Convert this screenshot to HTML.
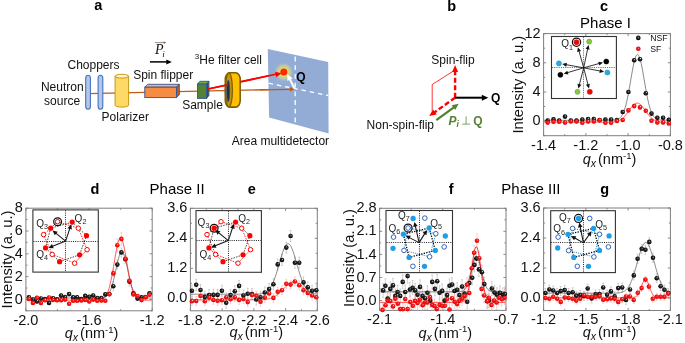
<!DOCTYPE html>
<html><head><meta charset="utf-8"><style>
html,body{margin:0;padding:0;background:#fff;width:685px;height:343px;overflow:hidden;}
svg{display:block;will-change:transform;}
</style></head><body>
<svg width="685" height="343" viewBox="0 0 685 343">
<rect width="685" height="343" fill="#fff"/>
<defs>
<radialGradient id="gk" cx="0.5" cy="0.5" r="0.5" fx="0.62" fy="0.32">
<stop offset="0" stop-color="#e8e8e8"/><stop offset="0.3" stop-color="#333"/><stop offset="1" stop-color="#000"/></radialGradient>
<radialGradient id="gr" cx="0.5" cy="0.5" r="0.5" fx="0.62" fy="0.32">
<stop offset="0" stop-color="#ffe0e0"/><stop offset="0.3" stop-color="#ff2020"/><stop offset="1" stop-color="#e00000"/></radialGradient>
<radialGradient id="glow" cx="0.5" cy="0.5" r="0.5">
<stop offset="0" stop-color="#ffe800" stop-opacity="1"/><stop offset="0.35" stop-color="#e6e060" stop-opacity="0.95"/><stop offset="0.65" stop-color="#cad29c" stop-opacity="0.75"/><stop offset="1" stop-color="#8faadc" stop-opacity="0"/></radialGradient>
</defs>
<text x="98.25" y="10.40" font-size="14.5" text-anchor="middle" font-weight="bold" font-style="normal" fill="#000" font-family="Liberation Sans" >a</text>
<text x="451.70" y="11.30" font-size="14.5" text-anchor="middle" font-weight="bold" font-style="normal" fill="#000" font-family="Liberation Sans" >b</text>
<text x="604.00" y="11.40" font-size="14.5" text-anchor="middle" font-weight="bold" font-style="normal" fill="#000" font-family="Liberation Sans" >c</text>
<text x="95.00" y="194.20" font-size="14.5" text-anchor="middle" font-weight="bold" font-style="normal" fill="#000" font-family="Liberation Sans" >d</text>
<text x="251.90" y="194.20" font-size="14.5" text-anchor="middle" font-weight="bold" font-style="normal" fill="#000" font-family="Liberation Sans" >e</text>
<text x="451.20" y="194.20" font-size="14.5" text-anchor="middle" font-weight="bold" font-style="normal" fill="#000" font-family="Liberation Sans" >f</text>
<text x="604.80" y="194.40" font-size="14.5" text-anchor="middle" font-weight="bold" font-style="normal" fill="#000" font-family="Liberation Sans" >g</text>
<text x="605.50" y="28.20" font-size="15" text-anchor="middle" font-weight="normal" font-style="normal" fill="#000" font-family="Liberation Sans" >Phase I</text>
<text x="177.10" y="194.30" font-size="15" text-anchor="middle" font-weight="normal" font-style="normal" fill="#000" font-family="Liberation Sans" >Phase II</text>
<text x="530.90" y="194.30" font-size="15" text-anchor="middle" font-weight="normal" font-style="normal" fill="#000" font-family="Liberation Sans" >Phase III</text>
<line x1="88" y1="93.6" x2="290" y2="89.2" stroke="#c55a11" stroke-width="1.3"/>
<polygon points="294.80,89.20 289.85,91.60 289.75,87.00" fill="#c55a11"/>
<rect x="85.70" y="75.3" width="4.7" height="34" rx="2.3" ry="3" fill="#b4c7e7" stroke="#4472c4" stroke-width="1.1"/>
<rect x="98.10" y="75.3" width="4.7" height="34" rx="2.3" ry="3" fill="#b4c7e7" stroke="#4472c4" stroke-width="1.1"/>
<path d="M115.1,76.2 L115.1,105.2 A6.75,1.9 0 0 0 128.6,105.2 L128.6,76.2 Z" fill="#ffd966" stroke="#bf9000" stroke-width="0.9"/>
<ellipse cx="121.85" cy="76.2" rx="6.75" ry="1.9" fill="#fff2cc" stroke="#bf9000" stroke-width="0.9"/>
<polygon points="144.8,87.2 147.6,84.3 179.3,84.3 176.5,87.2" fill="#f4b183" stroke="#2f5597" stroke-width="0.9"/>
<polygon points="176.5,87.2 179.3,84.3 179.3,94.8 176.5,97.6" fill="#c55a11" stroke="#2f5597" stroke-width="0.9"/>
<rect x="144.8" y="87.2" width="31.7" height="10.4" fill="#f58c44" stroke="#2f5597" stroke-width="0.9"/>
<polygon points="197.5,84.1 199.8,81.3 208.9,81.3 206.6,84.1" fill="#70ad47" stroke="#2f5597" stroke-width="0.9"/>
<polygon points="206.6,84.1 208.9,81.3 208.9,95.6 206.6,98.4" fill="#385723" stroke="#2f5597" stroke-width="0.9"/>
<rect x="197.5" y="84.1" width="9.1" height="14.3" fill="#548235" stroke="#2f5597" stroke-width="0.9"/>
<line x1="208" y1="89" x2="278" y2="73.8" stroke="#ff0000" stroke-width="1.6"/>
<rect x="225.3" y="72.7" width="14.9" height="34.4" rx="4.6" ry="6.5" fill="#ffc000" stroke="#7f6000" stroke-width="1.6"/>
<ellipse cx="228.9" cy="89.9" rx="3.5" ry="17.0" fill="#c89600" stroke="#7f6000" stroke-width="1.3"/>
<ellipse cx="228.2" cy="91" rx="1.55" ry="10.8" fill="#1f2d50" stroke="#2f5597" stroke-width="0.7"/>
<line x1="208" y1="89" x2="228.3" y2="84.7" stroke="#ff0000" stroke-width="1.6"/>
<polygon points="267.8,49 328.2,61.9 328.6,133.4 269.1,117.4" fill="#92acd6"/>
<line x1="295.2" y1="56.6" x2="295.2" y2="122.5" stroke="#fff" stroke-width="1.3" stroke-dasharray="4.8,3.9"/>
<line x1="268.5" y1="83.2" x2="328.3" y2="95.5" stroke="#fff" stroke-width="1.3" stroke-dasharray="4.6,3.8"/>
<line x1="260" y1="89.9" x2="290" y2="89.3" stroke="#c55a11" stroke-width="1.3"/>
<circle cx="283.8" cy="72.1" r="10.5" fill="url(#glow)"/>
<line x1="240" y1="81.8" x2="277" y2="74" stroke="#ff0000" stroke-width="1.6"/>
<polygon points="281.50,73.20 276.19,77.16 275.06,71.68" fill="#ff0000"/>
<circle cx="283.8" cy="72.1" r="3.5" fill="#ff2a00"/>
<line x1="294.60" y1="88.60" x2="289.48" y2="78.58" stroke="#ffffff" stroke-width="2.0"/>
<polygon points="287.30,74.30 292.70,78.28 287.36,81.01" fill="#ffffff"/>
<polygon points="294.80,89.20 289.85,91.60 289.75,87.00" fill="#c55a11"/>
<text x="300.90" y="80.90" font-size="12" text-anchor="middle" font-weight="bold" font-style="normal" fill="#000" font-family="Liberation Sans" >Q</text>
<text x="93.50" y="68.90" font-size="12" text-anchor="middle" font-weight="normal" font-style="normal" fill="#111" font-family="Liberation Sans" >Choppers</text>
<text x="62.30" y="91.10" font-size="12" text-anchor="middle" font-weight="normal" font-style="normal" fill="#111" font-family="Liberation Sans" >Neutron</text>
<text x="62.10" y="104.70" font-size="12" text-anchor="middle" font-weight="normal" font-style="normal" fill="#111" font-family="Liberation Sans" >source</text>
<text x="125.25" y="120.90" font-size="12" text-anchor="middle" font-weight="normal" font-style="normal" fill="#111" font-family="Liberation Sans" >Polarizer</text>
<text x="163.20" y="79.30" font-size="12" text-anchor="middle" font-weight="normal" font-style="normal" fill="#111" font-family="Liberation Sans" >Spin flipper</text>
<text x="202.50" y="108.80" font-size="12" text-anchor="middle" font-weight="normal" font-style="normal" fill="#111" font-family="Liberation Sans" >Sample</text>
<text x="194.8" y="64.2" font-size="12" font-family="Liberation Sans" fill="#111"><tspan font-size="8" dy="-4.8">3</tspan><tspan dy="4.8">He filter cell</tspan></text>
<text x="280.40" y="145.20" font-size="12" text-anchor="middle" font-weight="normal" font-style="normal" fill="#111" font-family="Liberation Sans" >Area multidetector</text>
<text x="155.00" y="54.00" font-size="14" text-anchor="start" font-weight="normal" font-style="italic" fill="#111" font-family="Liberation Serif" >P</text>
<text x="162.30" y="56.60" font-size="9" text-anchor="start" font-weight="normal" font-style="italic" fill="#111" font-family="Liberation Serif" >i</text>
<line x1="155" y1="42.6" x2="164.5" y2="42.6" stroke="#8a7060" stroke-width="0.8"/>
<polygon points="166.30,42.60 163.70,43.90 163.70,41.30" fill="#8a7060"/>
<line x1="149.90" y1="61.90" x2="167.40" y2="61.90" stroke="#000" stroke-width="1.5"/>
<polygon points="171.80,61.90 166.30,64.40 166.30,59.40" fill="#000"/>
<text x="453.00" y="63.50" font-size="12" text-anchor="middle" font-weight="normal" font-style="normal" fill="#111" font-family="Liberation Sans" >Spin-flip</text>
<text x="400.30" y="128.60" font-size="12" text-anchor="middle" font-weight="normal" font-style="normal" fill="#111" font-family="Liberation Sans" >Non-spin-flip</text>
<polyline points="453.2,71.2 432.2,84.5 432.2,113" fill="none" stroke="#ff0000" stroke-width="0.8"/>
<line x1="455.10" y1="97.70" x2="455.10" y2="70.70" stroke="#ff0000" stroke-width="2.4" stroke-dasharray="5,2.5"/>
<polygon points="455.10,65.10 458.10,72.10 452.10,72.10" fill="#ff0000"/>
<line x1="455.10" y1="97.70" x2="433.77" y2="112.86" stroke="#ff0000" stroke-width="2.4" stroke-dasharray="5,2.5"/>
<polygon points="429.20,116.10 433.17,109.60 436.64,114.49" fill="#ff0000"/>
<line x1="455.10" y1="97.70" x2="483.10" y2="97.70" stroke="#000" stroke-width="2.0"/>
<polygon points="488.30,97.70 481.80,100.70 481.80,94.70" fill="#000"/>
<line x1="436.30" y1="120.10" x2="454.50" y2="106.86" stroke="#548235" stroke-width="2.4"/>
<polygon points="458.70,103.80 455.21,110.05 451.68,105.20" fill="#548235"/>
<text x="495.60" y="101.80" font-size="12" text-anchor="middle" font-weight="bold" font-style="normal" fill="#000" font-family="Liberation Sans" >Q</text>
<text x="448.60" y="124.80" font-size="12" text-anchor="start" font-weight="bold" font-style="italic" fill="#548235" font-family="Liberation Sans" >P</text>
<text x="456.60" y="127.40" font-size="8.5" text-anchor="start" font-weight="bold" font-style="italic" fill="#548235" font-family="Liberation Sans" >i</text>
<path d="M462.2,124.1H470M466.1,124.1V116.4" stroke="#548235" stroke-width="0.9" fill="none" opacity="0.85"/>
<text x="473.30" y="124.80" font-size="12" text-anchor="start" font-weight="bold" font-style="normal" fill="#548235" font-family="Liberation Sans" >Q</text>
<rect x="543.60" y="33.60" width="126.80" height="102.10" fill="none" stroke="#7f7f7f" stroke-width="1"/>
<path d="M543.60,135.70v-2.6M543.60,33.60v2.6M585.87,135.70v-2.6M585.87,33.60v2.6M628.13,135.70v-2.6M628.13,33.60v2.6M670.40,135.70v-2.6M670.40,33.60v2.6M564.73,135.70v-1.6M564.73,33.60v1.6M607.00,135.70v-1.6M607.00,33.60v1.6M649.27,135.70v-1.6M649.27,33.60v1.6M543.60,121.11h2.6M670.40,121.11h-2.6M543.60,91.94h2.6M670.40,91.94h-2.6M543.60,62.77h2.6M670.40,62.77h-2.6M543.60,33.60h2.6M670.40,33.60h-2.6M543.60,135.70h1.6M670.40,135.70h-1.6M543.60,106.53h1.6M670.40,106.53h-1.6M543.60,77.36h1.6M670.40,77.36h-1.6M543.60,48.19h1.6M670.40,48.19h-1.6" stroke="#7f7f7f" stroke-width="0.9" fill="none"/>
<path d="M547.70,118.90V122.10M546.80,118.90h1.8M546.80,122.10h1.8M553.50,117.80V121.00M552.60,117.80h1.8M552.60,121.00h1.8M559.20,118.90V122.10M558.30,118.90h1.8M558.30,122.10h1.8M565.00,115.00V118.20M564.10,115.00h1.8M564.10,118.20h1.8M570.80,118.90V122.10M569.90,118.90h1.8M569.90,122.10h1.8M576.50,118.90V122.10M575.60,118.90h1.8M575.60,122.10h1.8M582.30,118.00V121.20M581.40,118.00h1.8M581.40,121.20h1.8M588.10,117.40V120.60M587.20,117.40h1.8M587.20,120.60h1.8M593.80,117.40V120.60M592.90,117.40h1.8M592.90,120.60h1.8M599.60,118.40V121.60M598.70,118.40h1.8M598.70,121.60h1.8M605.40,118.00V121.20M604.50,118.00h1.8M604.50,121.20h1.8M611.10,118.00V121.20M610.20,118.00h1.8M610.20,121.20h1.8M616.90,118.40V121.60M616.00,118.40h1.8M616.00,121.60h1.8M622.70,110.40V113.60M621.80,110.40h1.8M621.80,113.60h1.8M628.40,90.40V93.60M627.50,90.40h1.8M627.50,93.60h1.8M634.20,58.70V61.90M633.30,58.70h1.8M633.30,61.90h1.8M640.00,57.70V60.90M639.10,57.70h1.8M639.10,60.90h1.8M645.80,91.70V94.90M644.90,91.70h1.8M644.90,94.90h1.8M651.50,112.00V115.20M650.60,112.00h1.8M650.60,115.20h1.8M657.30,116.10V119.30M656.40,116.10h1.8M656.40,119.30h1.8M663.10,116.10V119.30M662.20,116.10h1.8M662.20,119.30h1.8M668.80,118.10V121.30M667.90,118.10h1.8M667.90,121.30h1.8" stroke="#b4b4b4" stroke-width="0.6" fill="none"/>
<path d="M547.70,121.00V124.20M546.80,121.00h1.8M546.80,124.20h1.8M553.50,120.20V123.40M552.60,120.20h1.8M552.60,123.40h1.8M559.20,120.20V123.40M558.30,120.20h1.8M558.30,123.40h1.8M565.00,121.00V124.20M564.10,121.00h1.8M564.10,124.20h1.8M570.80,119.90V123.10M569.90,119.90h1.8M569.90,123.10h1.8M576.50,119.90V123.10M575.60,119.90h1.8M575.60,123.10h1.8M582.30,121.20V124.40M581.40,121.20h1.8M581.40,124.40h1.8M588.10,119.90V123.10M587.20,119.90h1.8M587.20,123.10h1.8M593.80,119.90V123.10M592.90,119.90h1.8M592.90,123.10h1.8M599.60,118.60V121.80M598.70,118.60h1.8M598.70,121.80h1.8M605.40,121.20V124.40M604.50,121.20h1.8M604.50,124.40h1.8M611.10,121.20V124.40M610.20,121.20h1.8M610.20,124.40h1.8M616.90,119.40V122.60M616.00,119.40h1.8M616.00,122.60h1.8M622.70,118.40V121.60M621.80,118.40h1.8M621.80,121.60h1.8M628.40,108.80V112.00M627.50,108.80h1.8M627.50,112.00h1.8M634.20,104.50V107.70M633.30,104.50h1.8M633.30,107.70h1.8M640.00,105.80V109.00M639.10,105.80h1.8M639.10,109.00h1.8M645.80,109.20V112.40M644.90,109.20h1.8M644.90,112.40h1.8M651.50,119.20V122.40M650.60,119.20h1.8M650.60,122.40h1.8M657.30,120.80V124.00M656.40,120.80h1.8M656.40,124.00h1.8M663.10,120.80V124.00M662.20,120.80h1.8M662.20,124.00h1.8M668.80,121.80V125.00M667.90,121.80h1.8M667.90,125.00h1.8" stroke="#ffb0b0" stroke-width="0.6" fill="none"/>
<polyline points="544.20,120.30 544.70,120.30 545.20,120.30 545.70,120.30 546.20,120.30 546.70,120.30 547.20,120.30 547.70,120.30 548.20,120.30 548.70,120.30 549.20,120.30 549.70,120.30 550.20,120.30 550.70,120.30 551.20,120.30 551.70,120.30 552.20,120.30 552.70,120.30 553.20,120.30 553.70,120.30 554.20,120.30 554.70,120.30 555.20,120.30 555.70,120.30 556.20,120.30 556.70,120.30 557.20,120.30 557.70,120.30 558.20,120.30 558.70,120.30 559.20,120.30 559.70,120.30 560.20,120.30 560.70,120.30 561.20,120.30 561.70,120.30 562.20,120.30 562.70,120.30 563.20,120.30 563.70,120.30 564.20,120.30 564.70,120.30 565.20,120.30 565.70,120.30 566.20,120.30 566.70,120.30 567.20,120.30 567.70,120.30 568.20,120.30 568.70,120.30 569.20,120.30 569.70,120.30 570.20,120.30 570.70,120.30 571.20,120.30 571.70,120.30 572.20,120.30 572.70,120.30 573.20,120.30 573.70,120.30 574.20,120.30 574.70,120.30 575.20,120.30 575.70,120.30 576.20,120.30 576.70,120.30 577.20,120.30 577.70,120.30 578.20,120.30 578.70,120.30 579.20,120.30 579.70,120.30 580.20,120.30 580.70,120.30 581.20,120.30 581.70,120.30 582.20,120.30 582.70,120.30 583.20,120.30 583.70,120.30 584.20,120.30 584.70,120.30 585.20,120.30 585.70,120.30 586.20,120.30 586.70,120.30 587.20,120.30 587.70,120.30 588.20,120.30 588.70,120.30 589.20,120.30 589.70,120.30 590.20,120.30 590.70,120.30 591.20,120.30 591.70,120.30 592.20,120.30 592.70,120.30 593.20,120.30 593.70,120.30 594.20,120.30 594.70,120.30 595.20,120.30 595.70,120.30 596.20,120.30 596.70,120.30 597.20,120.30 597.70,120.30 598.20,120.30 598.70,120.30 599.20,120.30 599.70,120.30 600.20,120.30 600.70,120.30 601.20,120.30 601.70,120.30 602.20,120.30 602.70,120.30 603.20,120.30 603.70,120.30 604.20,120.30 604.70,120.30 605.20,120.30 605.70,120.30 606.20,120.30 606.70,120.30 607.20,120.30 607.70,120.30 608.20,120.29 608.70,120.29 609.20,120.29 609.70,120.28 610.20,120.28 610.70,120.27 611.20,120.26 611.70,120.25 612.20,120.24 612.70,120.21 613.20,120.19 613.70,120.16 614.20,120.11 614.70,120.06 615.20,120.00 615.70,119.91 616.20,119.81 616.70,119.69 617.20,119.54 617.70,119.35 618.20,119.13 618.70,118.86 619.20,118.54 619.70,118.16 620.20,117.71 620.70,117.19 621.20,116.58 621.70,115.88 622.20,115.06 622.70,114.14 623.20,113.09 623.70,111.91 624.20,110.58 624.70,109.11 625.20,107.48 625.70,105.70 626.20,103.76 626.70,101.66 627.20,99.41 627.70,97.01 628.20,94.47 628.70,91.82 629.20,89.06 629.70,86.22 630.20,83.32 630.70,80.39 631.20,77.46 631.70,74.56 632.20,71.74 632.70,69.01 633.20,66.42 633.70,64.01 634.20,61.81 634.70,59.85 635.20,58.16 635.70,56.77 636.20,55.69 636.70,54.95 637.20,54.56 637.70,54.53 638.20,54.85 638.70,55.52 639.20,56.52 639.70,57.86 640.20,59.49 640.70,61.40 641.20,63.55 641.70,65.93 642.20,68.48 642.70,71.18 643.20,73.99 643.70,76.88 644.20,79.80 644.70,82.74 645.20,85.64 645.70,88.50 646.20,91.27 646.70,93.95 647.20,96.51 647.70,98.94 648.20,101.22 648.70,103.35 649.20,105.32 649.70,107.14 650.20,108.80 650.70,110.30 651.20,111.65 651.70,112.86 652.20,113.94 652.70,114.89 653.20,115.72 653.70,116.45 654.20,117.07 654.70,117.62 655.20,118.08 655.70,118.47 656.20,118.80 656.70,119.08 657.20,119.31 657.70,119.50 658.20,119.66 658.70,119.79 659.20,119.90 659.70,119.98 660.20,120.05 660.70,120.10 661.20,120.15 661.70,120.18 662.20,120.21 662.70,120.23 663.20,120.25 663.70,120.26 664.20,120.27 664.70,120.28 665.20,120.28 665.70,120.29 666.20,120.29 666.70,120.29 667.20,120.30 667.70,120.30 668.20,120.30 668.70,120.30 669.20,120.30 669.70,120.30" fill="none" stroke="#555" stroke-width="0.7"/>
<polyline points="544.20,122.20 544.70,122.20 545.20,122.20 545.70,122.20 546.20,122.20 546.70,122.20 547.20,122.20 547.70,122.20 548.20,122.20 548.70,122.20 549.20,122.20 549.70,122.20 550.20,122.20 550.70,122.20 551.20,122.20 551.70,122.20 552.20,122.20 552.70,122.20 553.20,122.20 553.70,122.20 554.20,122.20 554.70,122.20 555.20,122.20 555.70,122.20 556.20,122.20 556.70,122.20 557.20,122.20 557.70,122.20 558.20,122.20 558.70,122.20 559.20,122.20 559.70,122.20 560.20,122.20 560.70,122.20 561.20,122.20 561.70,122.20 562.20,122.20 562.70,122.20 563.20,122.20 563.70,122.20 564.20,122.20 564.70,122.20 565.20,122.20 565.70,122.20 566.20,122.20 566.70,122.20 567.20,122.20 567.70,122.20 568.20,122.20 568.70,122.20 569.20,122.20 569.70,122.20 570.20,122.20 570.70,122.20 571.20,122.20 571.70,122.20 572.20,122.20 572.70,122.20 573.20,122.20 573.70,122.20 574.20,122.20 574.70,122.20 575.20,122.20 575.70,122.20 576.20,122.20 576.70,122.20 577.20,122.20 577.70,122.20 578.20,122.20 578.70,122.20 579.20,122.20 579.70,122.20 580.20,122.20 580.70,122.20 581.20,122.20 581.70,122.20 582.20,122.20 582.70,122.20 583.20,122.20 583.70,122.20 584.20,122.20 584.70,122.20 585.20,122.20 585.70,122.20 586.20,122.20 586.70,122.20 587.20,122.20 587.70,122.20 588.20,122.20 588.70,122.20 589.20,122.20 589.70,122.20 590.20,122.20 590.70,122.20 591.20,122.20 591.70,122.20 592.20,122.20 592.70,122.20 593.20,122.20 593.70,122.20 594.20,122.20 594.70,122.20 595.20,122.20 595.70,122.20 596.20,122.20 596.70,122.20 597.20,122.20 597.70,122.20 598.20,122.20 598.70,122.20 599.20,122.20 599.70,122.20 600.20,122.20 600.70,122.20 601.20,122.20 601.70,122.20 602.20,122.20 602.70,122.20 603.20,122.20 603.70,122.20 604.20,122.19 604.70,122.19 605.20,122.19 605.70,122.19 606.20,122.18 606.70,122.18 607.20,122.18 607.70,122.17 608.20,122.16 608.70,122.15 609.20,122.14 609.70,122.13 610.20,122.12 610.70,122.10 611.20,122.07 611.70,122.05 612.20,122.02 612.70,121.98 613.20,121.94 613.70,121.89 614.20,121.83 614.70,121.76 615.20,121.68 615.70,121.59 616.20,121.48 616.70,121.36 617.20,121.22 617.70,121.07 618.20,120.90 618.70,120.70 619.20,120.48 619.70,120.24 620.20,119.97 620.70,119.68 621.20,119.35 621.70,119.00 622.20,118.62 622.70,118.20 623.20,117.75 623.70,117.27 624.20,116.76 624.70,116.22 625.20,115.65 625.70,115.06 626.20,114.43 626.70,113.79 627.20,113.12 627.70,112.44 628.20,111.74 628.70,111.04 629.20,110.33 629.70,109.63 630.20,108.93 630.70,108.25 631.20,107.59 631.70,106.95 632.20,106.34 632.70,105.77 633.20,105.24 633.70,104.76 634.20,104.34 634.70,103.97 635.20,103.66 635.70,103.42 636.20,103.24 636.70,103.14 637.20,103.10 637.70,103.14 638.20,103.24 638.70,103.42 639.20,103.66 639.70,103.97 640.20,104.34 640.70,104.76 641.20,105.24 641.70,105.77 642.20,106.34 642.70,106.95 643.20,107.59 643.70,108.25 644.20,108.93 644.70,109.63 645.20,110.33 645.70,111.04 646.20,111.74 646.70,112.44 647.20,113.12 647.70,113.79 648.20,114.43 648.70,115.06 649.20,115.65 649.70,116.22 650.20,116.76 650.70,117.27 651.20,117.75 651.70,118.20 652.20,118.62 652.70,119.00 653.20,119.35 653.70,119.68 654.20,119.97 654.70,120.24 655.20,120.48 655.70,120.70 656.20,120.90 656.70,121.07 657.20,121.22 657.70,121.36 658.20,121.48 658.70,121.59 659.20,121.68 659.70,121.76 660.20,121.83 660.70,121.89 661.20,121.94 661.70,121.98 662.20,122.02 662.70,122.05 663.20,122.07 663.70,122.10 664.20,122.12 664.70,122.13 665.20,122.14 665.70,122.15 666.20,122.16 666.70,122.17 667.20,122.18 667.70,122.18 668.20,122.18 668.70,122.19 669.20,122.19 669.70,122.19" fill="none" stroke="#ff1010" stroke-width="0.7"/>
<circle cx="547.70" cy="120.50" r="2.3" fill="url(#gk)"/>
<circle cx="553.50" cy="119.40" r="2.3" fill="url(#gk)"/>
<circle cx="559.20" cy="120.50" r="2.3" fill="url(#gk)"/>
<circle cx="565.00" cy="116.60" r="2.3" fill="url(#gk)"/>
<circle cx="570.80" cy="120.50" r="2.3" fill="url(#gk)"/>
<circle cx="576.50" cy="120.50" r="2.3" fill="url(#gk)"/>
<circle cx="582.30" cy="119.60" r="2.3" fill="url(#gk)"/>
<circle cx="588.10" cy="119.00" r="2.3" fill="url(#gk)"/>
<circle cx="593.80" cy="119.00" r="2.3" fill="url(#gk)"/>
<circle cx="599.60" cy="120.00" r="2.3" fill="url(#gk)"/>
<circle cx="605.40" cy="119.60" r="2.3" fill="url(#gk)"/>
<circle cx="611.10" cy="119.60" r="2.3" fill="url(#gk)"/>
<circle cx="616.90" cy="120.00" r="2.3" fill="url(#gk)"/>
<circle cx="622.70" cy="112.00" r="2.3" fill="url(#gk)"/>
<circle cx="628.40" cy="92.00" r="2.3" fill="url(#gk)"/>
<circle cx="634.20" cy="60.30" r="2.3" fill="url(#gk)"/>
<circle cx="640.00" cy="59.30" r="2.3" fill="url(#gk)"/>
<circle cx="645.80" cy="93.30" r="2.3" fill="url(#gk)"/>
<circle cx="651.50" cy="113.60" r="2.3" fill="url(#gk)"/>
<circle cx="657.30" cy="117.70" r="2.3" fill="url(#gk)"/>
<circle cx="663.10" cy="117.70" r="2.3" fill="url(#gk)"/>
<circle cx="668.80" cy="119.70" r="2.3" fill="url(#gk)"/>
<circle cx="547.70" cy="122.60" r="2.3" fill="url(#gr)"/>
<circle cx="553.50" cy="121.80" r="2.3" fill="url(#gr)"/>
<circle cx="559.20" cy="121.80" r="2.3" fill="url(#gr)"/>
<circle cx="565.00" cy="122.60" r="2.3" fill="url(#gr)"/>
<circle cx="570.80" cy="121.50" r="2.3" fill="url(#gr)"/>
<circle cx="576.50" cy="121.50" r="2.3" fill="url(#gr)"/>
<circle cx="582.30" cy="122.80" r="2.3" fill="url(#gr)"/>
<circle cx="588.10" cy="121.50" r="2.3" fill="url(#gr)"/>
<circle cx="593.80" cy="121.50" r="2.3" fill="url(#gr)"/>
<circle cx="599.60" cy="120.20" r="2.3" fill="url(#gr)"/>
<circle cx="605.40" cy="122.80" r="2.3" fill="url(#gr)"/>
<circle cx="611.10" cy="122.80" r="2.3" fill="url(#gr)"/>
<circle cx="616.90" cy="121.00" r="2.3" fill="url(#gr)"/>
<circle cx="622.70" cy="120.00" r="2.3" fill="url(#gr)"/>
<circle cx="628.40" cy="110.40" r="2.3" fill="url(#gr)"/>
<circle cx="634.20" cy="106.10" r="2.3" fill="url(#gr)"/>
<circle cx="640.00" cy="107.40" r="2.3" fill="url(#gr)"/>
<circle cx="645.80" cy="110.80" r="2.3" fill="url(#gr)"/>
<circle cx="651.50" cy="120.80" r="2.3" fill="url(#gr)"/>
<circle cx="657.30" cy="122.40" r="2.3" fill="url(#gr)"/>
<circle cx="663.10" cy="122.40" r="2.3" fill="url(#gr)"/>
<circle cx="668.80" cy="123.40" r="2.3" fill="url(#gr)"/>
<text x="543.60" y="149.60" font-size="14.5" text-anchor="middle" font-weight="normal" font-style="normal" fill="#111" font-family="Liberation Sans" >-1.4</text>
<text x="585.87" y="149.60" font-size="14.5" text-anchor="middle" font-weight="normal" font-style="normal" fill="#111" font-family="Liberation Sans" >-1.2</text>
<text x="628.13" y="149.60" font-size="14.5" text-anchor="middle" font-weight="normal" font-style="normal" fill="#111" font-family="Liberation Sans" >-1.0</text>
<text x="670.40" y="149.60" font-size="14.5" text-anchor="middle" font-weight="normal" font-style="normal" fill="#111" font-family="Liberation Sans" >-0.8</text>
<text x="540.60" y="125.21" font-size="14.5" text-anchor="end" font-weight="normal" font-style="normal" fill="#111" font-family="Liberation Sans" >0</text>
<text x="540.60" y="96.04" font-size="14.5" text-anchor="end" font-weight="normal" font-style="normal" fill="#111" font-family="Liberation Sans" >4</text>
<text x="540.60" y="66.87" font-size="14.5" text-anchor="end" font-weight="normal" font-style="normal" fill="#111" font-family="Liberation Sans" >8</text>
<text x="540.60" y="37.70" font-size="14.5" text-anchor="end" font-weight="normal" font-style="normal" fill="#111" font-family="Liberation Sans" >12</text>
<text x="609.50" y="164.20" font-size="14.5" text-anchor="middle" fill="#111" font-family="Liberation Sans"><tspan font-style="italic">q</tspan><tspan font-style="italic" font-size="10.5" dy="3">x</tspan><tspan dy="-3" dx="2">(nm</tspan><tspan font-size="9.5" dy="-5.4">-1</tspan><tspan dy="5.4">)</tspan></text>
<text x="0" y="0" font-size="14.8" text-anchor="middle" fill="#111" font-family="Liberation Sans" transform="translate(523.40,84.65) rotate(-90)">Intensity (a. u.)</text>
<circle cx="638.3" cy="37.9" r="2.3" fill="url(#gk)"/>
<circle cx="638.3" cy="48.8" r="2.3" fill="url(#gr)"/>
<text x="650.20" y="41.00" font-size="8.7" text-anchor="start" font-weight="normal" font-style="normal" fill="#111" font-family="Liberation Sans" >NSF</text>
<text x="650.20" y="52.00" font-size="8.7" text-anchor="start" font-weight="normal" font-style="normal" fill="#111" font-family="Liberation Sans" >SF</text>
<rect x="551.50" y="36.50" width="64.90" height="62.00" fill="#fff" stroke="#333" stroke-width="1.1"/>
<line x1="583.50" y1="37.00" x2="583.50" y2="98.00" stroke="#777" stroke-width="1" stroke-dasharray="1.2,1"/>
<line x1="552.00" y1="67.50" x2="615.90" y2="67.50" stroke="#777" stroke-width="1" stroke-dasharray="1.2,1"/>
<line x1="583.70" y1="67.80" x2="578.86" y2="50.59" stroke="#111" stroke-width="0.85"/>
<polygon points="577.91,47.21 581.02,50.90 577.17,51.98" fill="#111"/>
<line x1="583.70" y1="67.80" x2="587.78" y2="48.37" stroke="#111" stroke-width="0.85"/>
<polygon points="588.50,44.93 589.55,49.64 585.64,48.82" fill="#111"/>
<line x1="583.70" y1="67.80" x2="599.63" y2="63.36" stroke="#111" stroke-width="0.85"/>
<polygon points="603.02,62.41 599.32,65.52 598.25,61.67" fill="#111"/>
<line x1="583.70" y1="67.80" x2="600.61" y2="71.15" stroke="#111" stroke-width="0.85"/>
<polygon points="604.06,71.84 599.36,72.94 600.14,69.02" fill="#111"/>
<line x1="583.70" y1="67.80" x2="565.71" y2="64.61" stroke="#111" stroke-width="0.85"/>
<polygon points="562.25,63.99 566.93,62.79 566.23,66.73" fill="#111"/>
<line x1="583.70" y1="67.80" x2="567.03" y2="72.81" stroke="#111" stroke-width="0.85"/>
<polygon points="563.66,73.82 567.29,70.64 568.45,74.47" fill="#111"/>
<line x1="583.70" y1="67.80" x2="579.23" y2="85.10" stroke="#111" stroke-width="0.85"/>
<polygon points="578.35,88.51 577.51,83.75 581.39,84.75" fill="#111"/>
<line x1="583.70" y1="67.80" x2="588.10" y2="85.09" stroke="#111" stroke-width="0.85"/>
<polygon points="588.96,88.50 585.94,84.73 589.82,83.75" fill="#111"/>
<circle cx="576.5" cy="42.2" r="2.55" fill="#ff0000" stroke="#c00000" stroke-width="0.5"/>
<circle cx="589.2" cy="41.6" r="2.55" fill="#8cc63f" stroke="#39a935" stroke-width="0.5"/>
<circle cx="606.3" cy="61.5" r="2.55" fill="#000" stroke="#000" stroke-width="0.5"/>
<circle cx="607.4" cy="72.5" r="2.55" fill="#29abe2" stroke="#1b8fc8" stroke-width="0.5"/>
<circle cx="558.9" cy="63.4" r="2.55" fill="#29abe2" stroke="#1b8fc8" stroke-width="0.5"/>
<circle cx="560.4" cy="74.8" r="2.55" fill="#000" stroke="#000" stroke-width="0.5"/>
<circle cx="577.5" cy="91.8" r="2.55" fill="#8cc63f" stroke="#39a935" stroke-width="0.5"/>
<circle cx="589.8" cy="91.8" r="2.55" fill="#ff0000" stroke="#c00000" stroke-width="0.5"/>
<circle cx="576.5" cy="42.2" r="4.1" fill="none" stroke="#111" stroke-width="1.25"/>
<text x="561.20" y="47.30" font-size="10" fill="#222" font-family="Liberation Sans">Q<tspan font-size="7.2" dy="2.2">1</tspan></text>
<rect x="25.90" y="208.20" width="126.30" height="102.60" fill="none" stroke="#7f7f7f" stroke-width="1"/>
<path d="M25.90,310.80v-2.6M25.90,208.20v2.6M89.05,310.80v-2.6M89.05,208.20v2.6M152.20,310.80v-2.6M152.20,208.20v2.6M57.47,310.80v-1.6M57.47,208.20v1.6M120.62,310.80v-1.6M120.62,208.20v1.6M25.90,299.40h2.6M152.20,299.40h-2.6M25.90,276.60h2.6M152.20,276.60h-2.6M25.90,253.80h2.6M152.20,253.80h-2.6M25.90,231.00h2.6M152.20,231.00h-2.6M25.90,208.20h2.6M152.20,208.20h-2.6M25.90,310.80h1.6M152.20,310.80h-1.6M25.90,288.00h1.6M152.20,288.00h-1.6M25.90,265.20h1.6M152.20,265.20h-1.6M25.90,242.40h1.6M152.20,242.40h-1.6M25.90,219.60h1.6M152.20,219.60h-1.6" stroke="#7f7f7f" stroke-width="0.9" fill="none"/>
<path d="M28.90,295.80V299.00M28.00,295.80h1.8M28.00,299.00h1.8M32.90,298.00V301.20M32.00,298.00h1.8M32.00,301.20h1.8M36.90,299.80V303.00M36.00,299.80h1.8M36.00,303.00h1.8M40.90,296.90V300.10M40.00,296.90h1.8M40.00,300.10h1.8M45.00,297.40V300.60M44.10,297.40h1.8M44.10,300.60h1.8M49.00,301.30V304.50M48.10,301.30h1.8M48.10,304.50h1.8M53.00,296.70V299.90M52.10,296.70h1.8M52.10,299.90h1.8M57.00,297.60V300.80M56.10,297.60h1.8M56.10,300.80h1.8M61.10,294.00V297.20M60.20,294.00h1.8M60.20,297.20h1.8M65.10,295.40V298.60M64.20,295.40h1.8M64.20,298.60h1.8M69.10,292.50V295.70M68.20,292.50h1.8M68.20,295.70h1.8M73.10,295.80V299.00M72.20,295.80h1.8M72.20,299.00h1.8M77.10,295.70V298.90M76.20,295.70h1.8M76.20,298.90h1.8M81.20,297.40V300.60M80.30,297.40h1.8M80.30,300.60h1.8M85.20,294.30V297.50M84.30,294.30h1.8M84.30,297.50h1.8M89.20,295.10V298.30M88.30,295.10h1.8M88.30,298.30h1.8M93.20,293.90V297.10M92.30,293.90h1.8M92.30,297.10h1.8M97.20,296.40V299.60M96.30,296.40h1.8M96.30,299.60h1.8M101.30,296.40V299.60M100.40,296.40h1.8M100.40,299.60h1.8M105.30,292.80V296.00M104.40,292.80h1.8M104.40,296.00h1.8M109.30,292.40V295.60M108.40,292.40h1.8M108.40,295.60h1.8M113.30,281.70V290.70M112.40,281.70h1.8M112.40,290.70h1.8M117.30,260.10V269.10M116.40,260.10h1.8M116.40,269.10h1.8M121.40,247.90V256.90M120.50,247.90h1.8M120.50,256.90h1.8M125.40,254.70V263.70M124.50,254.70h1.8M124.50,263.70h1.8M129.40,277.10V286.10M128.50,277.10h1.8M128.50,286.10h1.8M133.40,291.60V294.80M132.50,291.60h1.8M132.50,294.80h1.8M137.50,297.00V300.20M136.60,297.00h1.8M136.60,300.20h1.8M141.50,295.70V298.90M140.60,295.70h1.8M140.60,298.90h1.8M145.50,295.40V298.60M144.60,295.40h1.8M144.60,298.60h1.8M149.50,291.60V294.80M148.60,291.60h1.8M148.60,294.80h1.8" stroke="#b4b4b4" stroke-width="0.6" fill="none"/>
<path d="M28.90,297.30V300.50M28.00,297.30h1.8M28.00,300.50h1.8M32.90,301.30V304.50M32.00,301.30h1.8M32.00,304.50h1.8M36.90,296.20V299.40M36.00,296.20h1.8M36.00,299.40h1.8M40.90,301.30V304.50M40.00,301.30h1.8M40.00,304.50h1.8M45.00,298.70V301.90M44.10,298.70h1.8M44.10,301.90h1.8M49.00,296.00V299.20M48.10,296.00h1.8M48.10,299.20h1.8M53.00,298.40V301.60M52.10,298.40h1.8M52.10,301.60h1.8M57.00,298.70V301.90M56.10,298.70h1.8M56.10,301.90h1.8M61.10,298.70V301.90M60.20,298.70h1.8M60.20,301.90h1.8M65.10,298.00V301.20M64.20,298.00h1.8M64.20,301.20h1.8M69.10,302.20V305.40M68.20,302.20h1.8M68.20,305.40h1.8M73.10,299.10V302.30M72.20,299.10h1.8M72.20,302.30h1.8M77.10,299.20V302.40M76.20,299.20h1.8M76.20,302.40h1.8M81.20,298.80V302.00M80.30,298.80h1.8M80.30,302.00h1.8M85.20,298.40V301.60M84.30,298.40h1.8M84.30,301.60h1.8M89.20,299.80V303.00M88.30,299.80h1.8M88.30,303.00h1.8M93.20,298.00V301.20M92.30,298.00h1.8M92.30,301.20h1.8M97.20,299.20V302.40M96.30,299.20h1.8M96.30,302.40h1.8M101.30,298.80V302.00M100.40,298.80h1.8M100.40,302.00h1.8M105.30,299.20V302.40M104.40,299.20h1.8M104.40,302.40h1.8M109.30,292.70V295.90M108.40,292.70h1.8M108.40,295.90h1.8M113.30,269.90V276.90M112.40,269.90h1.8M112.40,276.90h1.8M117.30,238.80V251.80M116.40,238.80h1.8M116.40,251.80h1.8M121.40,232.40V245.40M120.50,232.40h1.8M120.50,245.40h1.8M125.40,255.20V262.20M124.50,255.20h1.8M124.50,262.20h1.8M129.40,277.20V284.20M128.50,277.20h1.8M128.50,284.20h1.8M133.40,292.80V296.00M132.50,292.80h1.8M132.50,296.00h1.8M137.50,294.50V297.70M136.60,294.50h1.8M136.60,297.70h1.8M141.50,298.50V301.70M140.60,298.50h1.8M140.60,301.70h1.8M145.50,295.70V298.90M144.60,295.70h1.8M144.60,298.90h1.8M149.50,293.20V296.40M148.60,293.20h1.8M148.60,296.40h1.8" stroke="#ffb0b0" stroke-width="0.6" fill="none"/>
<polyline points="26.50,298.00 27.00,298.00 27.50,298.00 28.00,298.00 28.50,298.00 29.00,298.00 29.50,298.00 30.00,298.00 30.50,298.00 31.00,298.00 31.50,298.00 32.00,298.00 32.50,298.00 33.00,298.00 33.50,298.00 34.00,298.00 34.50,298.00 35.00,298.00 35.50,298.00 36.00,298.00 36.50,298.00 37.00,298.00 37.50,298.00 38.00,298.00 38.50,298.00 39.00,298.00 39.50,298.00 40.00,298.00 40.50,298.00 41.00,298.00 41.50,298.00 42.00,298.00 42.50,298.00 43.00,298.00 43.50,298.00 44.00,298.00 44.50,298.00 45.00,298.00 45.50,298.00 46.00,298.00 46.50,298.00 47.00,298.00 47.50,298.00 48.00,298.00 48.50,298.00 49.00,298.00 49.50,298.00 50.00,298.00 50.50,298.00 51.00,298.00 51.50,298.00 52.00,298.00 52.50,298.00 53.00,298.00 53.50,298.00 54.00,298.00 54.50,298.00 55.00,298.00 55.50,298.00 56.00,298.00 56.50,298.00 57.00,298.00 57.50,298.00 58.00,298.00 58.50,298.00 59.00,298.00 59.50,298.00 60.00,298.00 60.50,298.00 61.00,298.00 61.50,298.00 62.00,298.00 62.50,298.00 63.00,298.00 63.50,298.00 64.00,298.00 64.50,298.00 65.00,298.00 65.50,298.00 66.00,298.00 66.50,298.00 67.00,298.00 67.50,298.00 68.00,298.00 68.50,298.00 69.00,298.00 69.50,298.00 70.00,298.00 70.50,298.00 71.00,298.00 71.50,298.00 72.00,298.00 72.50,298.00 73.00,298.00 73.50,298.00 74.00,298.00 74.50,298.00 75.00,298.00 75.50,298.00 76.00,298.00 76.50,298.00 77.00,298.00 77.50,298.00 78.00,298.00 78.50,298.00 79.00,298.00 79.50,298.00 80.00,298.00 80.50,298.00 81.00,298.00 81.50,298.00 82.00,298.00 82.50,298.00 83.00,298.00 83.50,298.00 84.00,298.00 84.50,298.00 85.00,298.00 85.50,298.00 86.00,298.00 86.50,298.00 87.00,298.00 87.50,298.00 88.00,298.00 88.50,298.00 89.00,298.00 89.50,298.00 90.00,298.00 90.50,298.00 91.00,298.00 91.50,298.00 92.00,298.00 92.50,298.00 93.00,298.00 93.50,298.00 94.00,298.00 94.50,298.00 95.00,298.00 95.50,298.00 96.00,298.00 96.50,297.99 97.00,297.99 97.50,297.99 98.00,297.98 98.50,297.98 99.00,297.97 99.50,297.95 100.00,297.94 100.50,297.92 101.00,297.89 101.50,297.85 102.00,297.80 102.50,297.74 103.00,297.66 103.50,297.56 104.00,297.44 104.50,297.28 105.00,297.09 105.50,296.85 106.00,296.56 106.50,296.22 107.00,295.80 107.50,295.31 108.00,294.73 108.50,294.06 109.00,293.27 109.50,292.37 110.00,291.35 110.50,290.19 111.00,288.90 111.50,287.46 112.00,285.88 112.50,284.16 113.00,282.31 113.50,280.33 114.00,278.24 114.50,276.06 115.00,273.80 115.50,271.49 116.00,269.17 116.50,266.86 117.00,264.60 117.50,262.42 118.00,260.36 118.50,258.46 119.00,256.75 119.50,255.26 120.00,254.02 120.50,253.07 121.00,252.41 121.50,252.06 122.00,252.03 122.50,252.31 123.00,252.91 123.50,253.81 124.00,254.99 124.50,256.43 125.00,258.10 125.50,259.97 126.00,262.00 126.50,264.15 127.00,266.40 127.50,268.71 128.00,271.03 128.50,273.34 129.00,275.61 129.50,277.81 130.00,279.92 130.50,281.92 131.00,283.80 131.50,285.55 132.00,287.16 132.50,288.62 133.00,289.94 133.50,291.13 134.00,292.18 134.50,293.10 135.00,293.91 135.50,294.61 136.00,295.20 136.50,295.71 137.00,296.14 137.50,296.50 138.00,296.80 138.50,297.04 139.00,297.24 139.50,297.41 140.00,297.54 140.50,297.64 141.00,297.73 141.50,297.79 142.00,297.84 142.50,297.88 143.00,297.91 143.50,297.93 144.00,297.95 144.50,297.96 145.00,297.97 145.50,297.98 146.00,297.99 146.50,297.99 147.00,297.99 147.50,298.00 148.00,298.00 148.50,298.00 149.00,298.00 149.50,298.00 150.00,298.00 150.50,298.00 151.00,298.00 151.50,298.00" fill="none" stroke="#555" stroke-width="0.7"/>
<polyline points="26.50,300.20 27.00,300.20 27.50,300.20 28.00,300.20 28.50,300.20 29.00,300.20 29.50,300.20 30.00,300.20 30.50,300.20 31.00,300.20 31.50,300.20 32.00,300.20 32.50,300.20 33.00,300.20 33.50,300.20 34.00,300.20 34.50,300.20 35.00,300.20 35.50,300.20 36.00,300.20 36.50,300.20 37.00,300.20 37.50,300.20 38.00,300.20 38.50,300.20 39.00,300.20 39.50,300.20 40.00,300.20 40.50,300.20 41.00,300.20 41.50,300.20 42.00,300.20 42.50,300.20 43.00,300.20 43.50,300.20 44.00,300.20 44.50,300.20 45.00,300.20 45.50,300.20 46.00,300.20 46.50,300.20 47.00,300.20 47.50,300.20 48.00,300.20 48.50,300.20 49.00,300.20 49.50,300.20 50.00,300.20 50.50,300.20 51.00,300.20 51.50,300.20 52.00,300.20 52.50,300.20 53.00,300.20 53.50,300.20 54.00,300.20 54.50,300.20 55.00,300.20 55.50,300.20 56.00,300.20 56.50,300.20 57.00,300.20 57.50,300.20 58.00,300.20 58.50,300.20 59.00,300.20 59.50,300.20 60.00,300.20 60.50,300.20 61.00,300.20 61.50,300.20 62.00,300.20 62.50,300.20 63.00,300.20 63.50,300.20 64.00,300.20 64.50,300.20 65.00,300.20 65.50,300.20 66.00,300.20 66.50,300.20 67.00,300.20 67.50,300.20 68.00,300.20 68.50,300.20 69.00,300.20 69.50,300.20 70.00,300.20 70.50,300.20 71.00,300.20 71.50,300.20 72.00,300.20 72.50,300.20 73.00,300.20 73.50,300.20 74.00,300.20 74.50,300.20 75.00,300.20 75.50,300.20 76.00,300.20 76.50,300.20 77.00,300.20 77.50,300.20 78.00,300.20 78.50,300.20 79.00,300.20 79.50,300.20 80.00,300.20 80.50,300.20 81.00,300.20 81.50,300.20 82.00,300.20 82.50,300.20 83.00,300.20 83.50,300.20 84.00,300.20 84.50,300.20 85.00,300.20 85.50,300.20 86.00,300.20 86.50,300.20 87.00,300.20 87.50,300.20 88.00,300.20 88.50,300.20 89.00,300.20 89.50,300.20 90.00,300.20 90.50,300.20 91.00,300.20 91.50,300.20 92.00,300.20 92.50,300.20 93.00,300.20 93.50,300.19 94.00,300.19 94.50,300.19 95.00,300.18 95.50,300.18 96.00,300.17 96.50,300.16 97.00,300.14 97.50,300.12 98.00,300.09 98.50,300.06 99.00,300.02 99.50,299.96 100.00,299.89 100.50,299.80 101.00,299.68 101.50,299.54 102.00,299.37 102.50,299.15 103.00,298.89 103.50,298.57 104.00,298.18 104.50,297.73 105.00,297.18 105.50,296.55 106.00,295.80 106.50,294.93 107.00,293.94 107.50,292.80 108.00,291.51 108.50,290.06 109.00,288.44 109.50,286.65 110.00,284.69 110.50,282.55 111.00,280.25 111.50,277.78 112.00,275.17 112.50,272.43 113.00,269.58 113.50,266.65 114.00,263.67 114.50,260.68 115.00,257.71 115.50,254.80 116.00,252.01 116.50,249.35 117.00,246.89 117.50,244.67 118.00,242.71 118.50,241.06 119.00,239.74 119.50,238.78 120.00,238.20 120.50,238.00 121.00,238.20 121.50,238.78 122.00,239.74 122.50,241.06 123.00,242.71 123.50,244.67 124.00,246.89 124.50,249.35 125.00,252.01 125.50,254.80 126.00,257.71 126.50,260.68 127.00,263.67 127.50,266.65 128.00,269.58 128.50,272.43 129.00,275.17 129.50,277.78 130.00,280.25 130.50,282.55 131.00,284.69 131.50,286.65 132.00,288.44 132.50,290.06 133.00,291.51 133.50,292.80 134.00,293.94 134.50,294.93 135.00,295.80 135.50,296.55 136.00,297.18 136.50,297.73 137.00,298.18 137.50,298.57 138.00,298.89 138.50,299.15 139.00,299.37 139.50,299.54 140.00,299.68 140.50,299.80 141.00,299.89 141.50,299.96 142.00,300.02 142.50,300.06 143.00,300.09 143.50,300.12 144.00,300.14 144.50,300.16 145.00,300.17 145.50,300.18 146.00,300.18 146.50,300.19 147.00,300.19 147.50,300.19 148.00,300.20 148.50,300.20 149.00,300.20 149.50,300.20 150.00,300.20 150.50,300.20 151.00,300.20 151.50,300.20" fill="none" stroke="#ff1010" stroke-width="0.7"/>
<circle cx="28.90" cy="297.40" r="2.3" fill="url(#gk)"/>
<circle cx="32.90" cy="299.60" r="2.3" fill="url(#gk)"/>
<circle cx="36.90" cy="301.40" r="2.3" fill="url(#gk)"/>
<circle cx="40.90" cy="298.50" r="2.3" fill="url(#gk)"/>
<circle cx="45.00" cy="299.00" r="2.3" fill="url(#gk)"/>
<circle cx="49.00" cy="302.90" r="2.3" fill="url(#gk)"/>
<circle cx="53.00" cy="298.30" r="2.3" fill="url(#gk)"/>
<circle cx="57.00" cy="299.20" r="2.3" fill="url(#gk)"/>
<circle cx="61.10" cy="295.60" r="2.3" fill="url(#gk)"/>
<circle cx="65.10" cy="297.00" r="2.3" fill="url(#gk)"/>
<circle cx="69.10" cy="294.10" r="2.3" fill="url(#gk)"/>
<circle cx="73.10" cy="297.40" r="2.3" fill="url(#gk)"/>
<circle cx="77.10" cy="297.30" r="2.3" fill="url(#gk)"/>
<circle cx="81.20" cy="299.00" r="2.3" fill="url(#gk)"/>
<circle cx="85.20" cy="295.90" r="2.3" fill="url(#gk)"/>
<circle cx="89.20" cy="296.70" r="2.3" fill="url(#gk)"/>
<circle cx="93.20" cy="295.50" r="2.3" fill="url(#gk)"/>
<circle cx="97.20" cy="298.00" r="2.3" fill="url(#gk)"/>
<circle cx="101.30" cy="298.00" r="2.3" fill="url(#gk)"/>
<circle cx="105.30" cy="294.40" r="2.3" fill="url(#gk)"/>
<circle cx="109.30" cy="294.00" r="2.3" fill="url(#gk)"/>
<circle cx="113.30" cy="286.20" r="2.3" fill="url(#gk)"/>
<circle cx="117.30" cy="264.60" r="2.3" fill="url(#gk)"/>
<circle cx="121.40" cy="252.40" r="2.3" fill="url(#gk)"/>
<circle cx="125.40" cy="259.20" r="2.3" fill="url(#gk)"/>
<circle cx="129.40" cy="281.60" r="2.3" fill="url(#gk)"/>
<circle cx="133.40" cy="293.20" r="2.3" fill="url(#gk)"/>
<circle cx="137.50" cy="298.60" r="2.3" fill="url(#gk)"/>
<circle cx="141.50" cy="297.30" r="2.3" fill="url(#gk)"/>
<circle cx="145.50" cy="297.00" r="2.3" fill="url(#gk)"/>
<circle cx="149.50" cy="293.20" r="2.3" fill="url(#gk)"/>
<circle cx="28.90" cy="298.90" r="2.3" fill="url(#gr)"/>
<circle cx="32.90" cy="302.90" r="2.3" fill="url(#gr)"/>
<circle cx="36.90" cy="297.80" r="2.3" fill="url(#gr)"/>
<circle cx="40.90" cy="302.90" r="2.3" fill="url(#gr)"/>
<circle cx="45.00" cy="300.30" r="2.3" fill="url(#gr)"/>
<circle cx="49.00" cy="297.60" r="2.3" fill="url(#gr)"/>
<circle cx="53.00" cy="300.00" r="2.3" fill="url(#gr)"/>
<circle cx="57.00" cy="300.30" r="2.3" fill="url(#gr)"/>
<circle cx="61.10" cy="300.30" r="2.3" fill="url(#gr)"/>
<circle cx="65.10" cy="299.60" r="2.3" fill="url(#gr)"/>
<circle cx="69.10" cy="303.80" r="2.3" fill="url(#gr)"/>
<circle cx="73.10" cy="300.70" r="2.3" fill="url(#gr)"/>
<circle cx="77.10" cy="300.80" r="2.3" fill="url(#gr)"/>
<circle cx="81.20" cy="300.40" r="2.3" fill="url(#gr)"/>
<circle cx="85.20" cy="300.00" r="2.3" fill="url(#gr)"/>
<circle cx="89.20" cy="301.40" r="2.3" fill="url(#gr)"/>
<circle cx="93.20" cy="299.60" r="2.3" fill="url(#gr)"/>
<circle cx="97.20" cy="300.80" r="2.3" fill="url(#gr)"/>
<circle cx="101.30" cy="300.40" r="2.3" fill="url(#gr)"/>
<circle cx="105.30" cy="300.80" r="2.3" fill="url(#gr)"/>
<circle cx="109.30" cy="294.30" r="2.3" fill="url(#gr)"/>
<circle cx="113.30" cy="273.40" r="2.3" fill="url(#gr)"/>
<circle cx="117.30" cy="245.30" r="2.3" fill="url(#gr)"/>
<circle cx="121.40" cy="238.90" r="2.3" fill="url(#gr)"/>
<circle cx="125.40" cy="258.70" r="2.3" fill="url(#gr)"/>
<circle cx="129.40" cy="280.70" r="2.3" fill="url(#gr)"/>
<circle cx="133.40" cy="294.40" r="2.3" fill="url(#gr)"/>
<circle cx="137.50" cy="296.10" r="2.3" fill="url(#gr)"/>
<circle cx="141.50" cy="300.10" r="2.3" fill="url(#gr)"/>
<circle cx="145.50" cy="297.30" r="2.3" fill="url(#gr)"/>
<circle cx="149.50" cy="294.80" r="2.3" fill="url(#gr)"/>
<text x="25.90" y="324.70" font-size="14.5" text-anchor="middle" font-weight="normal" font-style="normal" fill="#111" font-family="Liberation Sans" >-2.0</text>
<text x="89.05" y="324.70" font-size="14.5" text-anchor="middle" font-weight="normal" font-style="normal" fill="#111" font-family="Liberation Sans" >-1.6</text>
<text x="152.20" y="324.70" font-size="14.5" text-anchor="middle" font-weight="normal" font-style="normal" fill="#111" font-family="Liberation Sans" >-1.2</text>
<text x="22.90" y="303.50" font-size="14.5" text-anchor="end" font-weight="normal" font-style="normal" fill="#111" font-family="Liberation Sans" >0</text>
<text x="22.90" y="280.70" font-size="14.5" text-anchor="end" font-weight="normal" font-style="normal" fill="#111" font-family="Liberation Sans" >2</text>
<text x="22.90" y="257.90" font-size="14.5" text-anchor="end" font-weight="normal" font-style="normal" fill="#111" font-family="Liberation Sans" >4</text>
<text x="22.90" y="235.10" font-size="14.5" text-anchor="end" font-weight="normal" font-style="normal" fill="#111" font-family="Liberation Sans" >6</text>
<text x="22.90" y="212.30" font-size="14.5" text-anchor="end" font-weight="normal" font-style="normal" fill="#111" font-family="Liberation Sans" >8</text>
<text x="91.55" y="338.20" font-size="14.5" text-anchor="middle" fill="#111" font-family="Liberation Sans"><tspan font-style="italic">q</tspan><tspan font-style="italic" font-size="10.5" dy="3">x</tspan><tspan dy="-3" dx="2">(nm</tspan><tspan font-size="9.5" dy="-5.4">-1</tspan><tspan dy="5.4">)</tspan></text>
<text x="0" y="0" font-size="14.8" text-anchor="middle" fill="#111" font-family="Liberation Sans" transform="translate(12.40,259.50) rotate(-90)">Intensity (a. u.)</text>
<rect x="32.90" y="209.90" width="65.40" height="62.20" fill="#fff" stroke="#333" stroke-width="1.1"/>
<line x1="65.50" y1="210.40" x2="65.50" y2="271.60" stroke="#222" stroke-width="1" stroke-dasharray="1,1.2"/>
<line x1="33.40" y1="241.50" x2="97.80" y2="241.50" stroke="#222" stroke-width="1" stroke-dasharray="1,1.2"/>
<polygon points="57.60,221.70 78.30,228.20 87.10,249.70 74.60,263.20 52.20,254.40 43.60,234.60" fill="none" stroke="#ff0000" stroke-width="0.8" stroke-dasharray="1.6,1.1"/>
<polygon points="72.20,222.10 86.50,235.70 79.60,254.80 59.60,261.70 45.50,247.90 50.70,228.20" fill="none" stroke="#222" stroke-width="0.8" stroke-dasharray="1.6,1.1"/>
<line x1="65.60" y1="241.10" x2="55.49" y2="232.92" stroke="#111" stroke-width="1.05"/>
<polygon points="52.50,230.50 57.68,231.73 54.78,235.31" fill="#111"/>
<line x1="65.60" y1="241.10" x2="69.99" y2="227.94" stroke="#111" stroke-width="1.05"/>
<polygon points="71.20,224.30 71.86,229.58 67.50,228.13" fill="#111"/>
<line x1="65.60" y1="241.10" x2="51.97" y2="246.49" stroke="#111" stroke-width="1.05"/>
<polygon points="48.40,247.90 52.02,244.00 53.71,248.27" fill="#111"/>
<circle cx="57.60" cy="221.70" r="2.25" fill="#fff" stroke="#ff0000" stroke-width="1"/>
<circle cx="78.30" cy="228.20" r="2.25" fill="#fff" stroke="#ff0000" stroke-width="1"/>
<circle cx="87.10" cy="249.70" r="2.25" fill="#fff" stroke="#ff0000" stroke-width="1"/>
<circle cx="74.60" cy="263.20" r="2.25" fill="#fff" stroke="#ff0000" stroke-width="1"/>
<circle cx="52.20" cy="254.40" r="2.25" fill="#fff" stroke="#ff0000" stroke-width="1"/>
<circle cx="43.60" cy="234.60" r="2.25" fill="#fff" stroke="#ff0000" stroke-width="1"/>
<circle cx="72.20" cy="222.10" r="2.6" fill="#ff0000"/>
<circle cx="86.50" cy="235.70" r="2.6" fill="#ff0000"/>
<circle cx="79.60" cy="254.80" r="2.6" fill="#ff0000"/>
<circle cx="59.60" cy="261.70" r="2.6" fill="#ff0000"/>
<circle cx="45.50" cy="247.90" r="2.6" fill="#ff0000"/>
<circle cx="50.70" cy="228.20" r="2.6" fill="#ff0000"/>
<circle cx="57.60" cy="221.70" r="3.9" fill="none" stroke="#111" stroke-width="1.25"/>
<text x="36.30" y="226.70" font-size="10" fill="#222" font-family="Liberation Sans">Q<tspan font-size="7.2" dy="2.2">3</tspan></text>
<text x="74.60" y="221.70" font-size="10" fill="#222" font-family="Liberation Sans">Q<tspan font-size="7.2" dy="2.2">2</tspan></text>
<text x="36.30" y="258.00" font-size="10" fill="#222" font-family="Liberation Sans">Q<tspan font-size="7.2" dy="2.2">4</tspan></text>
<rect x="190.40" y="208.30" width="126.90" height="102.50" fill="none" stroke="#7f7f7f" stroke-width="1"/>
<path d="M190.40,310.80v-2.6M190.40,208.30v2.6M222.12,310.80v-2.6M222.12,208.30v2.6M253.85,310.80v-2.6M253.85,208.30v2.6M285.57,310.80v-2.6M285.57,208.30v2.6M317.30,310.80v-2.6M317.30,208.30v2.6M206.26,310.80v-1.6M206.26,208.30v1.6M237.99,310.80v-1.6M237.99,208.30v1.6M269.71,310.80v-1.6M269.71,208.30v1.6M301.44,310.80v-1.6M301.44,208.30v1.6M190.40,298.30h2.6M317.30,298.30h-2.6M190.40,268.30h2.6M317.30,268.30h-2.6M190.40,238.30h2.6M317.30,238.30h-2.6M190.40,208.30h2.6M317.30,208.30h-2.6M190.40,283.30h1.6M317.30,283.30h-1.6M190.40,253.30h1.6M317.30,253.30h-1.6M190.40,223.30h1.6M317.30,223.30h-1.6" stroke="#7f7f7f" stroke-width="0.9" fill="none"/>
<path d="M191.90,285.20V296.20M191.00,285.20h1.8M191.00,296.20h1.8M196.20,279.30V290.30M195.30,279.30h1.8M195.30,290.30h1.8M200.50,284.50V295.50M199.60,284.50h1.8M199.60,295.50h1.8M204.80,291.40V302.40M203.90,291.40h1.8M203.90,302.40h1.8M209.10,289.50V300.50M208.20,289.50h1.8M208.20,300.50h1.8M213.40,289.40V300.40M212.50,289.40h1.8M212.50,300.40h1.8M217.60,289.40V300.40M216.70,289.40h1.8M216.70,300.40h1.8M221.90,285.20V296.20M221.00,285.20h1.8M221.00,296.20h1.8M226.20,297.30V308.30M225.30,297.30h1.8M225.30,308.30h1.8M230.50,289.60V300.60M229.60,289.60h1.8M229.60,300.60h1.8M234.80,285.70V296.70M233.90,285.70h1.8M233.90,296.70h1.8M239.10,280.40V291.40M238.20,280.40h1.8M238.20,291.40h1.8M243.40,290.00V301.00M242.50,290.00h1.8M242.50,301.00h1.8M247.70,288.30V299.30M246.80,288.30h1.8M246.80,299.30h1.8M252.00,288.50V299.50M251.10,288.50h1.8M251.10,299.50h1.8M256.30,294.00V305.00M255.40,294.00h1.8M255.40,305.00h1.8M260.50,291.80V302.80M259.60,291.80h1.8M259.60,302.80h1.8M264.80,287.00V298.00M263.90,287.00h1.8M263.90,298.00h1.8M269.10,283.50V294.50M268.20,283.50h1.8M268.20,294.50h1.8M273.40,278.70V289.70M272.50,278.70h1.8M272.50,289.70h1.8M277.70,258.90V269.90M276.80,258.90h1.8M276.80,269.90h1.8M282.00,254.50V265.50M281.10,254.50h1.8M281.10,265.50h1.8M286.30,242.10V253.10M285.40,242.10h1.8M285.40,253.10h1.8M290.60,230.50V241.50M289.70,230.50h1.8M289.70,241.50h1.8M294.90,257.20V268.20M294.00,257.20h1.8M294.00,268.20h1.8M299.20,257.20V268.20M298.30,257.20h1.8M298.30,268.20h1.8M303.50,276.90V287.90M302.60,276.90h1.8M302.60,287.90h1.8M307.80,281.90V292.90M306.90,281.90h1.8M306.90,292.90h1.8M312.10,285.20V296.20M311.20,285.20h1.8M311.20,296.20h1.8M316.30,284.80V295.80M315.40,284.80h1.8M315.40,295.80h1.8" stroke="#b4b4b4" stroke-width="0.6" fill="none"/>
<path d="M191.90,296.70V305.70M191.00,296.70h1.8M191.00,305.70h1.8M196.20,296.50V305.50M195.30,296.50h1.8M195.30,305.50h1.8M200.50,291.50V300.50M199.60,291.50h1.8M199.60,300.50h1.8M204.80,296.70V305.70M203.90,296.70h1.8M203.90,305.70h1.8M209.10,293.10V302.10M208.20,293.10h1.8M208.20,302.10h1.8M213.40,295.40V304.40M212.50,295.40h1.8M212.50,304.40h1.8M217.60,296.30V305.30M216.70,296.30h1.8M216.70,305.30h1.8M221.90,295.70V304.70M221.00,295.70h1.8M221.00,304.70h1.8M226.20,292.80V301.80M225.30,292.80h1.8M225.30,301.80h1.8M230.50,294.80V303.80M229.60,294.80h1.8M229.60,303.80h1.8M234.80,292.80V301.80M233.90,292.80h1.8M233.90,301.80h1.8M239.10,295.40V304.40M238.20,295.40h1.8M238.20,304.40h1.8M243.40,294.50V303.50M242.50,294.50h1.8M242.50,303.50h1.8M247.70,297.60V306.60M246.80,297.60h1.8M246.80,306.60h1.8M252.00,290.40V299.40M251.10,290.40h1.8M251.10,299.40h1.8M256.30,291.30V300.30M255.40,291.30h1.8M255.40,300.30h1.8M260.50,297.20V306.20M259.60,297.20h1.8M259.60,306.20h1.8M264.80,293.10V302.10M263.90,293.10h1.8M263.90,302.10h1.8M269.10,288.90V297.90M268.20,288.90h1.8M268.20,297.90h1.8M273.40,293.40V302.40M272.50,293.40h1.8M272.50,302.40h1.8M277.70,287.30V296.30M276.80,287.30h1.8M276.80,296.30h1.8M282.00,285.80V294.80M281.10,285.80h1.8M281.10,294.80h1.8M286.30,279.20V288.20M285.40,279.20h1.8M285.40,288.20h1.8M290.60,280.10V289.10M289.70,280.10h1.8M289.70,289.10h1.8M294.90,277.00V286.00M294.00,277.00h1.8M294.00,286.00h1.8M299.20,280.70V289.70M298.30,280.70h1.8M298.30,289.70h1.8M303.50,285.80V294.80M302.60,285.80h1.8M302.60,294.80h1.8M307.80,288.40V297.40M306.90,288.40h1.8M306.90,297.40h1.8M312.10,291.00V300.00M311.20,291.00h1.8M311.20,300.00h1.8M316.30,292.80V301.80M315.40,292.80h1.8M315.40,301.80h1.8" stroke="#ffb0b0" stroke-width="0.6" fill="none"/>
<polyline points="191.00,294.20 191.50,294.20 192.00,294.20 192.50,294.20 193.00,294.20 193.50,294.20 194.00,294.20 194.50,294.20 195.00,294.20 195.50,294.20 196.00,294.20 196.50,294.20 197.00,294.20 197.50,294.20 198.00,294.20 198.50,294.20 199.00,294.20 199.50,294.20 200.00,294.20 200.50,294.20 201.00,294.20 201.50,294.20 202.00,294.20 202.50,294.20 203.00,294.20 203.50,294.20 204.00,294.20 204.50,294.20 205.00,294.20 205.50,294.20 206.00,294.20 206.50,294.20 207.00,294.20 207.50,294.20 208.00,294.20 208.50,294.20 209.00,294.20 209.50,294.20 210.00,294.20 210.50,294.20 211.00,294.20 211.50,294.20 212.00,294.20 212.50,294.20 213.00,294.20 213.50,294.20 214.00,294.20 214.50,294.20 215.00,294.20 215.50,294.20 216.00,294.20 216.50,294.20 217.00,294.20 217.50,294.20 218.00,294.20 218.50,294.20 219.00,294.20 219.50,294.20 220.00,294.20 220.50,294.20 221.00,294.20 221.50,294.20 222.00,294.20 222.50,294.20 223.00,294.20 223.50,294.20 224.00,294.20 224.50,294.20 225.00,294.20 225.50,294.20 226.00,294.20 226.50,294.20 227.00,294.20 227.50,294.20 228.00,294.20 228.50,294.20 229.00,294.20 229.50,294.20 230.00,294.20 230.50,294.20 231.00,294.20 231.50,294.20 232.00,294.20 232.50,294.20 233.00,294.20 233.50,294.20 234.00,294.20 234.50,294.20 235.00,294.20 235.50,294.20 236.00,294.20 236.50,294.20 237.00,294.20 237.50,294.20 238.00,294.20 238.50,294.20 239.00,294.20 239.50,294.20 240.00,294.20 240.50,294.20 241.00,294.20 241.50,294.20 242.00,294.20 242.50,294.20 243.00,294.20 243.50,294.20 244.00,294.20 244.50,294.20 245.00,294.20 245.50,294.20 246.00,294.20 246.50,294.20 247.00,294.20 247.50,294.20 248.00,294.20 248.50,294.20 249.00,294.20 249.50,294.20 250.00,294.20 250.50,294.20 251.00,294.19 251.50,294.19 252.00,294.19 252.50,294.19 253.00,294.18 253.50,294.18 254.00,294.18 254.50,294.17 255.00,294.16 255.50,294.15 256.00,294.14 256.50,294.13 257.00,294.11 257.50,294.09 258.00,294.07 258.50,294.04 259.00,294.00 259.50,293.96 260.00,293.91 260.50,293.86 261.00,293.79 261.50,293.71 262.00,293.62 262.50,293.51 263.00,293.39 263.50,293.24 264.00,293.07 264.50,292.88 265.00,292.66 265.50,292.41 266.00,292.13 266.50,291.81 267.00,291.45 267.50,291.05 268.00,290.60 268.50,290.10 269.00,289.54 269.50,288.92 270.00,288.25 270.50,287.51 271.00,286.70 271.50,285.82 272.00,284.87 272.50,283.85 273.00,282.75 273.50,281.58 274.00,280.34 274.50,279.02 275.00,277.63 275.50,276.17 276.00,274.66 276.50,273.08 277.00,271.45 277.50,269.77 278.00,268.06 278.50,266.32 279.00,264.57 279.50,262.80 280.00,261.05 280.50,259.30 281.00,257.59 281.50,255.92 282.00,254.31 282.50,252.77 283.00,251.30 283.50,249.94 284.00,248.68 284.50,247.53 285.00,246.52 285.50,245.65 286.00,244.92 286.50,244.35 287.00,243.93 287.50,243.68 288.00,243.60 288.50,243.68 289.00,243.93 289.50,244.35 290.00,244.92 290.50,245.65 291.00,246.52 291.50,247.53 292.00,248.68 292.50,249.94 293.00,251.30 293.50,252.77 294.00,254.31 294.50,255.92 295.00,257.59 295.50,259.30 296.00,261.05 296.50,262.80 297.00,264.57 297.50,266.32 298.00,268.06 298.50,269.77 299.00,271.45 299.50,273.08 300.00,274.66 300.50,276.17 301.00,277.63 301.50,279.02 302.00,280.34 302.50,281.58 303.00,282.75 303.50,283.85 304.00,284.87 304.50,285.82 305.00,286.70 305.50,287.51 306.00,288.25 306.50,288.92 307.00,289.54 307.50,290.10 308.00,290.60 308.50,291.05 309.00,291.45 309.50,291.81 310.00,292.13 310.50,292.41 311.00,292.66 311.50,292.88 312.00,293.07 312.50,293.24 313.00,293.39 313.50,293.51 314.00,293.62 314.50,293.71 315.00,293.79 315.50,293.86 316.00,293.91 316.50,293.96" fill="none" stroke="#555" stroke-width="0.7"/>
<polyline points="191.00,299.80 191.50,299.80 192.00,299.80 192.50,299.80 193.00,299.80 193.50,299.80 194.00,299.80 194.50,299.80 195.00,299.80 195.50,299.80 196.00,299.80 196.50,299.80 197.00,299.80 197.50,299.80 198.00,299.80 198.50,299.80 199.00,299.80 199.50,299.80 200.00,299.80 200.50,299.80 201.00,299.80 201.50,299.80 202.00,299.80 202.50,299.80 203.00,299.80 203.50,299.80 204.00,299.80 204.50,299.80 205.00,299.80 205.50,299.80 206.00,299.80 206.50,299.80 207.00,299.80 207.50,299.80 208.00,299.80 208.50,299.80 209.00,299.80 209.50,299.80 210.00,299.80 210.50,299.80 211.00,299.80 211.50,299.80 212.00,299.80 212.50,299.80 213.00,299.80 213.50,299.80 214.00,299.80 214.50,299.80 215.00,299.80 215.50,299.80 216.00,299.80 216.50,299.80 217.00,299.80 217.50,299.80 218.00,299.80 218.50,299.80 219.00,299.80 219.50,299.80 220.00,299.80 220.50,299.80 221.00,299.80 221.50,299.80 222.00,299.80 222.50,299.80 223.00,299.80 223.50,299.80 224.00,299.80 224.50,299.80 225.00,299.80 225.50,299.80 226.00,299.80 226.50,299.80 227.00,299.80 227.50,299.80 228.00,299.80 228.50,299.80 229.00,299.80 229.50,299.80 230.00,299.80 230.50,299.80 231.00,299.80 231.50,299.80 232.00,299.80 232.50,299.80 233.00,299.80 233.50,299.80 234.00,299.80 234.50,299.80 235.00,299.80 235.50,299.80 236.00,299.80 236.50,299.80 237.00,299.80 237.50,299.80 238.00,299.80 238.50,299.80 239.00,299.80 239.50,299.80 240.00,299.80 240.50,299.80 241.00,299.80 241.50,299.80 242.00,299.80 242.50,299.80 243.00,299.80 243.50,299.80 244.00,299.80 244.50,299.80 245.00,299.80 245.50,299.80 246.00,299.80 246.50,299.80 247.00,299.80 247.50,299.80 248.00,299.80 248.50,299.80 249.00,299.80 249.50,299.80 250.00,299.80 250.50,299.80 251.00,299.80 251.50,299.80 252.00,299.79 252.50,299.79 253.00,299.79 253.50,299.79 254.00,299.79 254.50,299.78 255.00,299.78 255.50,299.78 256.00,299.77 256.50,299.77 257.00,299.76 257.50,299.76 258.00,299.75 258.50,299.74 259.00,299.73 259.50,299.72 260.00,299.70 260.50,299.69 261.00,299.67 261.50,299.65 262.00,299.63 262.50,299.60 263.00,299.57 263.50,299.54 264.00,299.50 264.50,299.45 265.00,299.40 265.50,299.35 266.00,299.29 266.50,299.22 267.00,299.14 267.50,299.06 268.00,298.96 268.50,298.86 269.00,298.74 269.50,298.62 270.00,298.48 270.50,298.33 271.00,298.17 271.50,297.99 272.00,297.80 272.50,297.59 273.00,297.36 273.50,297.12 274.00,296.87 274.50,296.59 275.00,296.30 275.50,295.99 276.00,295.66 276.50,295.31 277.00,294.95 277.50,294.56 278.00,294.16 278.50,293.75 279.00,293.31 279.50,292.86 280.00,292.40 280.50,291.92 281.00,291.44 281.50,290.94 282.00,290.43 282.50,289.92 283.00,289.40 283.50,288.88 284.00,288.36 284.50,287.85 285.00,287.33 285.50,286.83 286.00,286.33 286.50,285.85 287.00,285.39 287.50,284.94 288.00,284.51 288.50,284.11 289.00,283.73 289.50,283.38 290.00,283.06 290.50,282.77 291.00,282.52 291.50,282.30 292.00,282.12 292.50,281.98 293.00,281.88 293.50,281.82 294.00,281.80 294.50,281.82 295.00,281.88 295.50,281.98 296.00,282.12 296.50,282.30 297.00,282.52 297.50,282.77 298.00,283.06 298.50,283.38 299.00,283.73 299.50,284.11 300.00,284.51 300.50,284.94 301.00,285.39 301.50,285.85 302.00,286.33 302.50,286.83 303.00,287.33 303.50,287.85 304.00,288.36 304.50,288.88 305.00,289.40 305.50,289.92 306.00,290.43 306.50,290.94 307.00,291.44 307.50,291.92 308.00,292.40 308.50,292.86 309.00,293.31 309.50,293.75 310.00,294.16 310.50,294.56 311.00,294.95 311.50,295.31 312.00,295.66 312.50,295.99 313.00,296.30 313.50,296.59 314.00,296.87 314.50,297.12 315.00,297.36 315.50,297.59 316.00,297.80 316.50,297.99" fill="none" stroke="#ff1010" stroke-width="0.7"/>
<circle cx="191.90" cy="290.70" r="2.3" fill="url(#gk)"/>
<circle cx="196.20" cy="284.80" r="2.3" fill="url(#gk)"/>
<circle cx="200.50" cy="290.00" r="2.3" fill="url(#gk)"/>
<circle cx="204.80" cy="296.90" r="2.3" fill="url(#gk)"/>
<circle cx="209.10" cy="295.00" r="2.3" fill="url(#gk)"/>
<circle cx="213.40" cy="294.90" r="2.3" fill="url(#gk)"/>
<circle cx="217.60" cy="294.90" r="2.3" fill="url(#gk)"/>
<circle cx="221.90" cy="290.70" r="2.3" fill="url(#gk)"/>
<circle cx="226.20" cy="302.80" r="2.3" fill="url(#gk)"/>
<circle cx="230.50" cy="295.10" r="2.3" fill="url(#gk)"/>
<circle cx="234.80" cy="291.20" r="2.3" fill="url(#gk)"/>
<circle cx="239.10" cy="285.90" r="2.3" fill="url(#gk)"/>
<circle cx="243.40" cy="295.50" r="2.3" fill="url(#gk)"/>
<circle cx="247.70" cy="293.80" r="2.3" fill="url(#gk)"/>
<circle cx="252.00" cy="294.00" r="2.3" fill="url(#gk)"/>
<circle cx="256.30" cy="299.50" r="2.3" fill="url(#gk)"/>
<circle cx="260.50" cy="297.30" r="2.3" fill="url(#gk)"/>
<circle cx="264.80" cy="292.50" r="2.3" fill="url(#gk)"/>
<circle cx="269.10" cy="289.00" r="2.3" fill="url(#gk)"/>
<circle cx="273.40" cy="284.20" r="2.3" fill="url(#gk)"/>
<circle cx="277.70" cy="264.40" r="2.3" fill="url(#gk)"/>
<circle cx="282.00" cy="260.00" r="2.3" fill="url(#gk)"/>
<circle cx="286.30" cy="247.60" r="2.3" fill="url(#gk)"/>
<circle cx="290.60" cy="236.00" r="2.3" fill="url(#gk)"/>
<circle cx="294.90" cy="262.70" r="2.3" fill="url(#gk)"/>
<circle cx="299.20" cy="262.70" r="2.3" fill="url(#gk)"/>
<circle cx="303.50" cy="282.40" r="2.3" fill="url(#gk)"/>
<circle cx="307.80" cy="287.40" r="2.3" fill="url(#gk)"/>
<circle cx="312.10" cy="290.70" r="2.3" fill="url(#gk)"/>
<circle cx="316.30" cy="290.30" r="2.3" fill="url(#gk)"/>
<circle cx="191.90" cy="301.20" r="2.3" fill="url(#gr)"/>
<circle cx="196.20" cy="301.00" r="2.3" fill="url(#gr)"/>
<circle cx="200.50" cy="296.00" r="2.3" fill="url(#gr)"/>
<circle cx="204.80" cy="301.20" r="2.3" fill="url(#gr)"/>
<circle cx="209.10" cy="297.60" r="2.3" fill="url(#gr)"/>
<circle cx="213.40" cy="299.90" r="2.3" fill="url(#gr)"/>
<circle cx="217.60" cy="300.80" r="2.3" fill="url(#gr)"/>
<circle cx="221.90" cy="300.20" r="2.3" fill="url(#gr)"/>
<circle cx="226.20" cy="297.30" r="2.3" fill="url(#gr)"/>
<circle cx="230.50" cy="299.30" r="2.3" fill="url(#gr)"/>
<circle cx="234.80" cy="297.30" r="2.3" fill="url(#gr)"/>
<circle cx="239.10" cy="299.90" r="2.3" fill="url(#gr)"/>
<circle cx="243.40" cy="299.00" r="2.3" fill="url(#gr)"/>
<circle cx="247.70" cy="302.10" r="2.3" fill="url(#gr)"/>
<circle cx="252.00" cy="294.90" r="2.3" fill="url(#gr)"/>
<circle cx="256.30" cy="295.80" r="2.3" fill="url(#gr)"/>
<circle cx="260.50" cy="301.70" r="2.3" fill="url(#gr)"/>
<circle cx="264.80" cy="297.60" r="2.3" fill="url(#gr)"/>
<circle cx="269.10" cy="293.40" r="2.3" fill="url(#gr)"/>
<circle cx="273.40" cy="297.90" r="2.3" fill="url(#gr)"/>
<circle cx="277.70" cy="291.80" r="2.3" fill="url(#gr)"/>
<circle cx="282.00" cy="290.30" r="2.3" fill="url(#gr)"/>
<circle cx="286.30" cy="283.70" r="2.3" fill="url(#gr)"/>
<circle cx="290.60" cy="284.60" r="2.3" fill="url(#gr)"/>
<circle cx="294.90" cy="281.50" r="2.3" fill="url(#gr)"/>
<circle cx="299.20" cy="285.20" r="2.3" fill="url(#gr)"/>
<circle cx="303.50" cy="290.30" r="2.3" fill="url(#gr)"/>
<circle cx="307.80" cy="292.90" r="2.3" fill="url(#gr)"/>
<circle cx="312.10" cy="295.50" r="2.3" fill="url(#gr)"/>
<circle cx="316.30" cy="297.30" r="2.3" fill="url(#gr)"/>
<text x="190.40" y="324.70" font-size="14.5" text-anchor="middle" font-weight="normal" font-style="normal" fill="#111" font-family="Liberation Sans" >-1.8</text>
<text x="222.12" y="324.70" font-size="14.5" text-anchor="middle" font-weight="normal" font-style="normal" fill="#111" font-family="Liberation Sans" >-2.0</text>
<text x="253.85" y="324.70" font-size="14.5" text-anchor="middle" font-weight="normal" font-style="normal" fill="#111" font-family="Liberation Sans" >-2.2</text>
<text x="285.57" y="324.70" font-size="14.5" text-anchor="middle" font-weight="normal" font-style="normal" fill="#111" font-family="Liberation Sans" >-2.4</text>
<text x="317.30" y="324.70" font-size="14.5" text-anchor="middle" font-weight="normal" font-style="normal" fill="#111" font-family="Liberation Sans" >-2.6</text>
<text x="187.40" y="302.40" font-size="14.5" text-anchor="end" font-weight="normal" font-style="normal" fill="#111" font-family="Liberation Sans" >0.0</text>
<text x="187.40" y="272.40" font-size="14.5" text-anchor="end" font-weight="normal" font-style="normal" fill="#111" font-family="Liberation Sans" >1.2</text>
<text x="187.40" y="242.40" font-size="14.5" text-anchor="end" font-weight="normal" font-style="normal" fill="#111" font-family="Liberation Sans" >2.4</text>
<text x="187.40" y="212.40" font-size="14.5" text-anchor="end" font-weight="normal" font-style="normal" fill="#111" font-family="Liberation Sans" >3.6</text>
<text x="256.35" y="336.90" font-size="14.5" text-anchor="middle" fill="#111" font-family="Liberation Sans"><tspan font-style="italic">q</tspan><tspan font-style="italic" font-size="10.5" dy="3">x</tspan><tspan dy="-3" dx="2">(nm</tspan><tspan font-size="9.5" dy="-5.4">-1</tspan><tspan dy="5.4">)</tspan></text>
<rect x="196.00" y="210.60" width="65.40" height="61.70" fill="#fff" stroke="#333" stroke-width="1.1"/>
<line x1="228.50" y1="211.10" x2="228.50" y2="271.80" stroke="#222" stroke-width="1" stroke-dasharray="1,1.2"/>
<line x1="196.50" y1="240.50" x2="260.90" y2="240.50" stroke="#222" stroke-width="1" stroke-dasharray="1,1.2"/>
<polygon points="221.00,221.70 241.70,228.20 250.50,249.70 238.00,263.20 215.60,254.40 207.00,234.60" fill="none" stroke="#ff0000" stroke-width="0.8" stroke-dasharray="1.6,1.1"/>
<polygon points="235.60,222.10 249.90,235.70 243.00,254.80 223.00,261.70 208.90,247.90 214.10,228.20" fill="none" stroke="#222" stroke-width="0.8" stroke-dasharray="1.6,1.1"/>
<line x1="228.30" y1="240.60" x2="218.19" y2="232.42" stroke="#111" stroke-width="1.05"/>
<polygon points="215.20,230.00 220.38,231.23 217.48,234.81" fill="#111"/>
<line x1="228.30" y1="240.60" x2="232.69" y2="227.44" stroke="#111" stroke-width="1.05"/>
<polygon points="233.90,223.80 234.56,229.08 230.20,227.63" fill="#111"/>
<line x1="228.30" y1="240.60" x2="214.67" y2="245.99" stroke="#111" stroke-width="1.05"/>
<polygon points="211.10,247.40 214.72,243.50 216.41,247.77" fill="#111"/>
<circle cx="221.00" cy="221.70" r="2.25" fill="#fff" stroke="#ff0000" stroke-width="1"/>
<circle cx="241.70" cy="228.20" r="2.25" fill="#fff" stroke="#ff0000" stroke-width="1"/>
<circle cx="250.50" cy="249.70" r="2.25" fill="#fff" stroke="#ff0000" stroke-width="1"/>
<circle cx="238.00" cy="263.20" r="2.25" fill="#fff" stroke="#ff0000" stroke-width="1"/>
<circle cx="215.60" cy="254.40" r="2.25" fill="#fff" stroke="#ff0000" stroke-width="1"/>
<circle cx="207.00" cy="234.60" r="2.25" fill="#fff" stroke="#ff0000" stroke-width="1"/>
<circle cx="235.60" cy="222.10" r="2.6" fill="#ff0000"/>
<circle cx="249.90" cy="235.70" r="2.6" fill="#ff0000"/>
<circle cx="243.00" cy="254.80" r="2.6" fill="#ff0000"/>
<circle cx="223.00" cy="261.70" r="2.6" fill="#ff0000"/>
<circle cx="208.90" cy="247.90" r="2.6" fill="#ff0000"/>
<circle cx="214.10" cy="228.20" r="2.6" fill="#ff0000"/>
<circle cx="214.10" cy="228.20" r="3.9" fill="none" stroke="#111" stroke-width="1.25"/>
<text x="197.60" y="226.00" font-size="10" fill="#222" font-family="Liberation Sans">Q<tspan font-size="7.2" dy="2.2">3</tspan></text>
<text x="238.30" y="221.70" font-size="10" fill="#222" font-family="Liberation Sans">Q<tspan font-size="7.2" dy="2.2">2</tspan></text>
<text x="199.40" y="258.00" font-size="10" fill="#222" font-family="Liberation Sans">Q<tspan font-size="7.2" dy="2.2">4</tspan></text>
<rect x="379.60" y="208.30" width="126.40" height="102.10" fill="none" stroke="#7f7f7f" stroke-width="1"/>
<path d="M379.60,310.40v-2.6M379.60,208.30v2.6M442.80,310.40v-2.6M442.80,208.30v2.6M506.00,310.40v-2.6M506.00,208.30v2.6M411.20,310.40v-1.6M411.20,208.30v1.6M474.40,310.40v-1.6M474.40,208.30v1.6M379.60,300.52h2.6M506.00,300.52h-2.6M379.60,277.46h2.6M506.00,277.46h-2.6M379.60,254.41h2.6M506.00,254.41h-2.6M379.60,231.35h2.6M506.00,231.35h-2.6M379.60,208.30h2.6M506.00,208.30h-2.6M379.60,288.99h1.6M506.00,288.99h-1.6M379.60,265.94h1.6M506.00,265.94h-1.6M379.60,242.88h1.6M506.00,242.88h-1.6M379.60,219.83h1.6M506.00,219.83h-1.6" stroke="#7f7f7f" stroke-width="0.9" fill="none"/>
<path d="M383.10,283.40V297.40M382.20,283.40h1.8M382.20,297.40h1.8M385.40,278.80V292.80M384.50,278.80h1.8M384.50,292.80h1.8M387.70,291.60V305.60M386.80,291.60h1.8M386.80,305.60h1.8M390.30,281.90V295.90M389.40,281.90h1.8M389.40,295.90h1.8M393.00,278.40V292.40M392.10,278.40h1.8M392.10,292.40h1.8M395.30,288.90V302.90M394.40,288.90h1.8M394.40,302.90h1.8M397.60,285.00V299.00M396.70,285.00h1.8M396.70,299.00h1.8M400.20,288.90V302.90M399.30,288.90h1.8M399.30,302.90h1.8M402.70,274.90V288.90M401.80,274.90h1.8M401.80,288.90h1.8M405.20,285.00V299.00M404.30,285.00h1.8M404.30,299.00h1.8M407.60,269.10V283.10M406.70,269.10h1.8M406.70,283.10h1.8M409.90,282.50V296.50M409.00,282.50h1.8M409.00,296.50h1.8M412.60,280.70V294.70M411.70,280.70h1.8M411.70,294.70h1.8M415.10,283.40V297.40M414.20,283.40h1.8M414.20,297.40h1.8M417.50,287.70V301.70M416.60,287.70h1.8M416.60,301.70h1.8M420.00,279.90V293.90M419.10,279.90h1.8M419.10,293.90h1.8M422.50,288.90V302.90M421.60,288.90h1.8M421.60,302.90h1.8M425.00,291.20V305.20M424.10,291.20h1.8M424.10,305.20h1.8M427.40,285.70V299.70M426.50,285.70h1.8M426.50,299.70h1.8M430.20,293.60V307.60M429.30,293.60h1.8M429.30,307.60h1.8M432.20,274.90V288.90M431.30,274.90h1.8M431.30,288.90h1.8M434.90,281.90V295.90M434.00,281.90h1.8M434.00,295.90h1.8M437.20,274.30V288.30M436.30,274.30h1.8M436.30,288.30h1.8M439.60,285.70V299.70M438.70,285.70h1.8M438.70,299.70h1.8M442.20,283.90V297.90M441.30,283.90h1.8M441.30,297.90h1.8M444.60,293.60V307.60M443.70,293.60h1.8M443.70,307.60h1.8M447.10,288.10V302.10M446.20,288.10h1.8M446.20,302.10h1.8M449.50,278.80V292.80M448.60,278.80h1.8M448.60,292.80h1.8M452.00,277.60V291.60M451.10,277.60h1.8M451.10,291.60h1.8M454.50,284.00V298.00M453.60,284.00h1.8M453.60,298.00h1.8M457.10,282.70V296.70M456.20,282.70h1.8M456.20,296.70h1.8M459.40,288.10V302.10M458.50,288.10h1.8M458.50,302.10h1.8M462.10,279.60V293.60M461.20,279.60h1.8M461.20,293.60h1.8M464.60,286.60V300.60M463.70,286.60h1.8M463.70,300.60h1.8M467.20,294.70V308.70M466.30,294.70h1.8M466.30,308.70h1.8M469.30,276.10V290.10M468.40,276.10h1.8M468.40,290.10h1.8M472.20,270.80V284.80M471.30,270.80h1.8M471.30,284.80h1.8M474.40,257.90V271.90M473.50,257.90h1.8M473.50,271.90h1.8M476.50,251.60V265.60M475.60,251.60h1.8M475.60,265.60h1.8M478.90,262.40V276.40M478.00,262.40h1.8M478.00,276.40h1.8M481.90,265.20V279.20M481.00,265.20h1.8M481.00,279.20h1.8M484.30,277.10V291.10M483.40,277.10h1.8M483.40,291.10h1.8M487.20,294.30V308.30M486.30,294.30h1.8M486.30,308.30h1.8M488.90,293.60V307.60M488.00,293.60h1.8M488.00,307.60h1.8M491.80,281.50V295.50M490.90,281.50h1.8M490.90,295.50h1.8M494.50,285.60V299.60M493.60,285.60h1.8M493.60,299.60h1.8M496.90,287.80V301.80M496.00,287.80h1.8M496.00,301.80h1.8M499.80,285.90V299.90M498.90,285.90h1.8M498.90,299.90h1.8M502.80,287.80V301.80M501.90,287.80h1.8M501.90,301.80h1.8M504.90,287.00V301.00M504.00,287.00h1.8M504.00,301.00h1.8" stroke="#b4b4b4" stroke-width="0.6" fill="none"/>
<path d="M382.50,302.90V309.90M381.60,302.90h1.8M381.60,309.90h1.8M385.40,298.20V309.90M384.50,298.20h1.8M384.50,309.90h1.8M387.70,293.60V307.60M386.80,293.60h1.8M386.80,307.60h1.8M390.30,294.10V308.10M389.40,294.10h1.8M389.40,308.10h1.8M393.00,299.40V309.90M392.10,299.40h1.8M392.10,309.90h1.8M395.30,291.80V305.80M394.40,291.80h1.8M394.40,305.80h1.8M397.90,296.70V309.90M397.00,296.70h1.8M397.00,309.90h1.8M400.20,302.10V309.90M399.30,302.10h1.8M399.30,309.90h1.8M402.90,302.10V309.90M402.00,302.10h1.8M402.00,309.90h1.8M405.20,292.00V306.00M404.30,292.00h1.8M404.30,306.00h1.8M407.60,302.10V309.90M406.70,302.10h1.8M406.70,309.90h1.8M410.20,295.10V309.10M409.30,295.10h1.8M409.30,309.10h1.8M412.80,298.80V309.90M411.90,298.80h1.8M411.90,309.90h1.8M415.10,293.90V307.90M414.20,293.90h1.8M414.20,307.90h1.8M417.50,296.00V309.90M416.60,296.00h1.8M416.60,309.90h1.8M419.80,292.70V306.70M418.90,292.70h1.8M418.90,306.70h1.8M422.70,298.20V309.90M421.80,298.20h1.8M421.80,309.90h1.8M425.00,295.50V309.50M424.10,295.50h1.8M424.10,309.50h1.8M427.40,295.50V309.50M426.50,295.50h1.8M426.50,309.50h1.8M429.90,290.10V304.10M429.00,290.10h1.8M429.00,304.10h1.8M432.20,297.90V309.90M431.30,297.90h1.8M431.30,309.90h1.8M434.50,299.00V309.90M433.60,299.00h1.8M433.60,309.90h1.8M436.70,302.10V309.90M435.80,302.10h1.8M435.80,309.90h1.8M439.60,297.90V309.90M438.70,297.90h1.8M438.70,309.90h1.8M442.20,298.80V309.90M441.30,298.80h1.8M441.30,309.90h1.8M444.80,298.80V309.90M443.90,298.80h1.8M443.90,309.90h1.8M447.10,292.00V306.00M446.20,292.00h1.8M446.20,306.00h1.8M449.50,302.50V309.90M448.60,302.50h1.8M448.60,309.90h1.8M452.00,291.20V305.20M451.10,291.20h1.8M451.10,305.20h1.8M454.70,294.70V308.70M453.80,294.70h1.8M453.80,308.70h1.8M457.10,297.10V309.90M456.20,297.10h1.8M456.20,309.90h1.8M459.40,293.60V307.60M458.50,293.60h1.8M458.50,307.60h1.8M462.10,291.60V305.60M461.20,291.60h1.8M461.20,305.60h1.8M464.40,288.90V302.90M463.50,288.90h1.8M463.50,302.90h1.8M467.00,277.60V291.60M466.10,277.60h1.8M466.10,291.60h1.8M469.30,286.00V300.00M468.40,286.00h1.8M468.40,300.00h1.8M471.70,261.20V275.20M470.80,261.20h1.8M470.80,275.20h1.8M474.10,245.70V259.70M473.20,245.70h1.8M473.20,259.70h1.8M477.00,233.70V247.70M476.10,233.70h1.8M476.10,247.70h1.8M479.30,251.20V265.20M478.40,251.20h1.8M478.40,265.20h1.8M481.60,281.90V295.90M480.70,281.90h1.8M480.70,295.90h1.8M484.10,288.50V302.50M483.20,288.50h1.8M483.20,302.50h1.8M487.20,294.30V308.30M486.30,294.30h1.8M486.30,308.30h1.8M488.90,290.70V304.70M488.00,290.70h1.8M488.00,304.70h1.8M491.50,298.00V309.90M490.60,298.00h1.8M490.60,309.90h1.8M494.00,293.60V307.60M493.10,293.60h1.8M493.10,307.60h1.8M496.60,295.50V309.50M495.70,295.50h1.8M495.70,309.50h1.8M498.80,290.70V304.70M497.90,290.70h1.8M497.90,304.70h1.8M501.70,292.10V306.10M500.80,292.10h1.8M500.80,306.10h1.8M504.60,290.70V304.70M503.70,290.70h1.8M503.70,304.70h1.8" stroke="#ffb0b0" stroke-width="0.6" fill="none"/>
<polyline points="380.20,291.80 380.70,291.80 381.20,291.80 381.70,291.80 382.20,291.80 382.70,291.80 383.20,291.80 383.70,291.80 384.20,291.80 384.70,291.80 385.20,291.80 385.70,291.80 386.20,291.80 386.70,291.80 387.20,291.80 387.70,291.80 388.20,291.80 388.70,291.80 389.20,291.80 389.70,291.80 390.20,291.80 390.70,291.80 391.20,291.80 391.70,291.80 392.20,291.80 392.70,291.80 393.20,291.80 393.70,291.80 394.20,291.80 394.70,291.80 395.20,291.80 395.70,291.80 396.20,291.80 396.70,291.80 397.20,291.80 397.70,291.80 398.20,291.80 398.70,291.80 399.20,291.80 399.70,291.80 400.20,291.80 400.70,291.80 401.20,291.80 401.70,291.80 402.20,291.80 402.70,291.80 403.20,291.80 403.70,291.80 404.20,291.80 404.70,291.80 405.20,291.80 405.70,291.80 406.20,291.80 406.70,291.80 407.20,291.80 407.70,291.80 408.20,291.80 408.70,291.80 409.20,291.80 409.70,291.80 410.20,291.80 410.70,291.80 411.20,291.80 411.70,291.80 412.20,291.80 412.70,291.80 413.20,291.80 413.70,291.80 414.20,291.80 414.70,291.80 415.20,291.80 415.70,291.80 416.20,291.80 416.70,291.80 417.20,291.80 417.70,291.80 418.20,291.80 418.70,291.80 419.20,291.80 419.70,291.80 420.20,291.80 420.70,291.80 421.20,291.80 421.70,291.80 422.20,291.80 422.70,291.80 423.20,291.80 423.70,291.80 424.20,291.80 424.70,291.80 425.20,291.80 425.70,291.80 426.20,291.80 426.70,291.80 427.20,291.80 427.70,291.80 428.20,291.80 428.70,291.80 429.20,291.80 429.70,291.80 430.20,291.80 430.70,291.80 431.20,291.80 431.70,291.80 432.20,291.80 432.70,291.80 433.20,291.80 433.70,291.80 434.20,291.80 434.70,291.80 435.20,291.80 435.70,291.80 436.20,291.80 436.70,291.80 437.20,291.80 437.70,291.80 438.20,291.80 438.70,291.80 439.20,291.80 439.70,291.80 440.20,291.80 440.70,291.80 441.20,291.80 441.70,291.80 442.20,291.80 442.70,291.80 443.20,291.80 443.70,291.80 444.20,291.80 444.70,291.80 445.20,291.80 445.70,291.80 446.20,291.80 446.70,291.80 447.20,291.80 447.70,291.80 448.20,291.80 448.70,291.80 449.20,291.80 449.70,291.80 450.20,291.80 450.70,291.80 451.20,291.80 451.70,291.80 452.20,291.80 452.70,291.80 453.20,291.80 453.70,291.80 454.20,291.80 454.70,291.80 455.20,291.80 455.70,291.79 456.20,291.79 456.70,291.78 457.20,291.78 457.70,291.76 458.20,291.75 458.70,291.73 459.20,291.70 459.70,291.66 460.20,291.60 460.70,291.53 461.20,291.43 461.70,291.30 462.20,291.13 462.70,290.92 463.20,290.65 463.70,290.32 464.20,289.90 464.70,289.39 465.20,288.78 465.70,288.05 466.20,287.18 466.70,286.18 467.20,285.02 467.70,283.71 468.20,282.24 468.70,280.62 469.20,278.85 469.70,276.95 470.20,274.93 470.70,272.84 471.20,270.70 471.70,268.55 472.20,266.44 472.70,264.41 473.20,262.51 473.70,260.79 474.20,259.30 474.70,258.07 475.20,257.15 475.70,256.55 476.20,256.31 476.70,256.41 477.20,256.87 477.70,257.66 478.20,258.77 478.70,260.16 479.20,261.80 479.70,263.63 480.20,265.61 480.70,267.70 481.20,269.84 481.70,271.99 482.20,274.10 482.70,276.15 483.20,278.10 483.70,279.93 484.20,281.61 484.70,283.14 485.20,284.52 485.70,285.74 486.20,286.80 486.70,287.72 487.20,288.50 487.70,289.16 488.20,289.71 488.70,290.16 489.20,290.53 489.70,290.82 490.20,291.06 490.70,291.24 491.20,291.38 491.70,291.49 492.20,291.57 492.70,291.64 493.20,291.68 493.70,291.72 494.20,291.74 494.70,291.76 495.20,291.77 495.70,291.78 496.20,291.79 496.70,291.79 497.20,291.79 497.70,291.80 498.20,291.80 498.70,291.80 499.20,291.80 499.70,291.80 500.20,291.80 500.70,291.80 501.20,291.80 501.70,291.80 502.20,291.80 502.70,291.80 503.20,291.80 503.70,291.80 504.20,291.80 504.70,291.80 505.20,291.80" fill="none" stroke="#555" stroke-width="0.85"/>
<polyline points="380.20,302.40 380.70,302.40 381.20,302.40 381.70,302.40 382.20,302.40 382.70,302.40 383.20,302.40 383.70,302.40 384.20,302.40 384.70,302.40 385.20,302.40 385.70,302.40 386.20,302.40 386.70,302.40 387.20,302.40 387.70,302.40 388.20,302.40 388.70,302.40 389.20,302.40 389.70,302.40 390.20,302.40 390.70,302.40 391.20,302.40 391.70,302.40 392.20,302.40 392.70,302.40 393.20,302.40 393.70,302.40 394.20,302.40 394.70,302.40 395.20,302.40 395.70,302.40 396.20,302.40 396.70,302.40 397.20,302.40 397.70,302.40 398.20,302.40 398.70,302.40 399.20,302.40 399.70,302.40 400.20,302.40 400.70,302.40 401.20,302.40 401.70,302.40 402.20,302.40 402.70,302.40 403.20,302.40 403.70,302.40 404.20,302.40 404.70,302.40 405.20,302.40 405.70,302.40 406.20,302.40 406.70,302.40 407.20,302.40 407.70,302.40 408.20,302.40 408.70,302.40 409.20,302.40 409.70,302.40 410.20,302.40 410.70,302.40 411.20,302.40 411.70,302.40 412.20,302.40 412.70,302.40 413.20,302.40 413.70,302.40 414.20,302.40 414.70,302.40 415.20,302.40 415.70,302.40 416.20,302.40 416.70,302.40 417.20,302.40 417.70,302.40 418.20,302.40 418.70,302.40 419.20,302.40 419.70,302.40 420.20,302.40 420.70,302.40 421.20,302.40 421.70,302.40 422.20,302.40 422.70,302.40 423.20,302.40 423.70,302.40 424.20,302.40 424.70,302.40 425.20,302.40 425.70,302.40 426.20,302.40 426.70,302.40 427.20,302.40 427.70,302.40 428.20,302.40 428.70,302.40 429.20,302.40 429.70,302.40 430.20,302.40 430.70,302.40 431.20,302.40 431.70,302.40 432.20,302.40 432.70,302.40 433.20,302.40 433.70,302.40 434.20,302.40 434.70,302.40 435.20,302.40 435.70,302.40 436.20,302.40 436.70,302.40 437.20,302.40 437.70,302.40 438.20,302.40 438.70,302.40 439.20,302.40 439.70,302.40 440.20,302.40 440.70,302.40 441.20,302.40 441.70,302.40 442.20,302.40 442.70,302.40 443.20,302.40 443.70,302.40 444.20,302.40 444.70,302.40 445.20,302.40 445.70,302.40 446.20,302.40 446.70,302.40 447.20,302.40 447.70,302.40 448.20,302.40 448.70,302.40 449.20,302.40 449.70,302.40 450.20,302.40 450.70,302.40 451.20,302.40 451.70,302.40 452.20,302.40 452.70,302.40 453.20,302.40 453.70,302.40 454.20,302.40 454.70,302.40 455.20,302.40 455.70,302.40 456.20,302.40 456.70,302.39 457.20,302.39 457.70,302.38 458.20,302.38 458.70,302.36 459.20,302.34 459.70,302.32 460.20,302.28 460.70,302.22 461.20,302.15 461.70,302.04 462.20,301.89 462.70,301.70 463.20,301.43 463.70,301.09 464.20,300.65 464.70,300.08 465.20,299.37 465.70,298.48 466.20,297.40 466.70,296.09 467.20,294.53 467.70,292.70 468.20,290.58 468.70,288.17 469.20,285.47 469.70,282.50 470.20,279.28 470.70,275.85 471.20,272.27 471.70,268.62 472.20,264.96 472.70,261.39 473.20,258.02 473.70,254.92 474.20,252.21 474.70,249.97 475.20,248.27 475.70,247.17 476.20,246.71 476.70,246.91 477.20,247.76 477.70,249.22 478.20,251.25 478.70,253.79 479.20,256.74 479.70,260.01 480.20,263.52 480.70,267.15 481.20,270.82 481.70,274.44 482.20,277.93 482.70,281.24 483.20,284.32 483.70,287.13 484.20,289.65 484.70,291.89 485.20,293.83 485.70,295.50 486.20,296.90 486.70,298.08 487.20,299.04 487.70,299.82 488.20,300.44 488.70,300.93 489.20,301.31 489.70,301.60 490.20,301.82 490.70,301.99 491.20,302.11 491.70,302.19 492.20,302.26 492.70,302.30 493.20,302.33 493.70,302.36 494.20,302.37 494.70,302.38 495.20,302.39 495.70,302.39 496.20,302.40 496.70,302.40 497.20,302.40 497.70,302.40 498.20,302.40 498.70,302.40 499.20,302.40 499.70,302.40 500.20,302.40 500.70,302.40 501.20,302.40 501.70,302.40 502.20,302.40 502.70,302.40 503.20,302.40 503.70,302.40 504.20,302.40 504.70,302.40 505.20,302.40" fill="none" stroke="#ff1010" stroke-width="0.85"/>
<circle cx="383.10" cy="290.40" r="2.3" fill="url(#gk)"/>
<circle cx="385.40" cy="285.80" r="2.3" fill="url(#gk)"/>
<circle cx="387.70" cy="298.60" r="2.3" fill="url(#gk)"/>
<circle cx="390.30" cy="288.90" r="2.3" fill="url(#gk)"/>
<circle cx="393.00" cy="285.40" r="2.3" fill="url(#gk)"/>
<circle cx="395.30" cy="295.90" r="2.3" fill="url(#gk)"/>
<circle cx="397.60" cy="292.00" r="2.3" fill="url(#gk)"/>
<circle cx="400.20" cy="295.90" r="2.3" fill="url(#gk)"/>
<circle cx="402.70" cy="281.90" r="2.3" fill="url(#gk)"/>
<circle cx="405.20" cy="292.00" r="2.3" fill="url(#gk)"/>
<circle cx="407.60" cy="276.10" r="2.3" fill="url(#gk)"/>
<circle cx="409.90" cy="289.50" r="2.3" fill="url(#gk)"/>
<circle cx="412.60" cy="287.70" r="2.3" fill="url(#gk)"/>
<circle cx="415.10" cy="290.40" r="2.3" fill="url(#gk)"/>
<circle cx="417.50" cy="294.70" r="2.3" fill="url(#gk)"/>
<circle cx="420.00" cy="286.90" r="2.3" fill="url(#gk)"/>
<circle cx="422.50" cy="295.90" r="2.3" fill="url(#gk)"/>
<circle cx="425.00" cy="298.20" r="2.3" fill="url(#gk)"/>
<circle cx="427.40" cy="292.70" r="2.3" fill="url(#gk)"/>
<circle cx="430.20" cy="300.60" r="2.3" fill="url(#gk)"/>
<circle cx="432.20" cy="281.90" r="2.3" fill="url(#gk)"/>
<circle cx="434.90" cy="288.90" r="2.3" fill="url(#gk)"/>
<circle cx="437.20" cy="281.30" r="2.3" fill="url(#gk)"/>
<circle cx="439.60" cy="292.70" r="2.3" fill="url(#gk)"/>
<circle cx="442.20" cy="290.90" r="2.3" fill="url(#gk)"/>
<circle cx="444.60" cy="300.60" r="2.3" fill="url(#gk)"/>
<circle cx="447.10" cy="295.10" r="2.3" fill="url(#gk)"/>
<circle cx="449.50" cy="285.80" r="2.3" fill="url(#gk)"/>
<circle cx="452.00" cy="284.60" r="2.3" fill="url(#gk)"/>
<circle cx="454.50" cy="291.00" r="2.3" fill="url(#gk)"/>
<circle cx="457.10" cy="289.70" r="2.3" fill="url(#gk)"/>
<circle cx="459.40" cy="295.10" r="2.3" fill="url(#gk)"/>
<circle cx="462.10" cy="286.60" r="2.3" fill="url(#gk)"/>
<circle cx="464.60" cy="293.60" r="2.3" fill="url(#gk)"/>
<circle cx="467.20" cy="301.70" r="2.3" fill="url(#gk)"/>
<circle cx="469.30" cy="283.10" r="2.3" fill="url(#gk)"/>
<circle cx="472.20" cy="277.80" r="2.3" fill="url(#gk)"/>
<circle cx="474.40" cy="264.90" r="2.3" fill="url(#gk)"/>
<circle cx="476.50" cy="258.60" r="2.3" fill="url(#gk)"/>
<circle cx="478.90" cy="269.40" r="2.3" fill="url(#gk)"/>
<circle cx="481.90" cy="272.20" r="2.3" fill="url(#gk)"/>
<circle cx="484.30" cy="284.10" r="2.3" fill="url(#gk)"/>
<circle cx="487.20" cy="301.30" r="2.3" fill="url(#gk)"/>
<circle cx="488.90" cy="300.60" r="2.3" fill="url(#gk)"/>
<circle cx="491.80" cy="288.50" r="2.3" fill="url(#gk)"/>
<circle cx="494.50" cy="292.60" r="2.3" fill="url(#gk)"/>
<circle cx="496.90" cy="294.80" r="2.3" fill="url(#gk)"/>
<circle cx="499.80" cy="292.90" r="2.3" fill="url(#gk)"/>
<circle cx="502.80" cy="294.80" r="2.3" fill="url(#gk)"/>
<circle cx="504.90" cy="294.00" r="2.3" fill="url(#gk)"/>
<circle cx="382.50" cy="309.90" r="2.3" fill="url(#gr)"/>
<circle cx="385.40" cy="305.20" r="2.3" fill="url(#gr)"/>
<circle cx="387.70" cy="300.60" r="2.3" fill="url(#gr)"/>
<circle cx="390.30" cy="301.10" r="2.3" fill="url(#gr)"/>
<circle cx="393.00" cy="306.40" r="2.3" fill="url(#gr)"/>
<circle cx="395.30" cy="298.80" r="2.3" fill="url(#gr)"/>
<circle cx="397.90" cy="303.70" r="2.3" fill="url(#gr)"/>
<circle cx="400.20" cy="309.10" r="2.3" fill="url(#gr)"/>
<circle cx="402.90" cy="309.10" r="2.3" fill="url(#gr)"/>
<circle cx="405.20" cy="299.00" r="2.3" fill="url(#gr)"/>
<circle cx="407.60" cy="309.10" r="2.3" fill="url(#gr)"/>
<circle cx="410.20" cy="302.10" r="2.3" fill="url(#gr)"/>
<circle cx="412.80" cy="305.80" r="2.3" fill="url(#gr)"/>
<circle cx="415.10" cy="300.90" r="2.3" fill="url(#gr)"/>
<circle cx="417.50" cy="303.00" r="2.3" fill="url(#gr)"/>
<circle cx="419.80" cy="299.70" r="2.3" fill="url(#gr)"/>
<circle cx="422.70" cy="305.20" r="2.3" fill="url(#gr)"/>
<circle cx="425.00" cy="302.50" r="2.3" fill="url(#gr)"/>
<circle cx="427.40" cy="302.50" r="2.3" fill="url(#gr)"/>
<circle cx="429.90" cy="297.10" r="2.3" fill="url(#gr)"/>
<circle cx="432.20" cy="304.90" r="2.3" fill="url(#gr)"/>
<circle cx="434.50" cy="306.00" r="2.3" fill="url(#gr)"/>
<circle cx="436.70" cy="309.10" r="2.3" fill="url(#gr)"/>
<circle cx="439.60" cy="304.90" r="2.3" fill="url(#gr)"/>
<circle cx="442.20" cy="305.80" r="2.3" fill="url(#gr)"/>
<circle cx="444.80" cy="305.80" r="2.3" fill="url(#gr)"/>
<circle cx="447.10" cy="299.00" r="2.3" fill="url(#gr)"/>
<circle cx="449.50" cy="309.50" r="2.3" fill="url(#gr)"/>
<circle cx="452.00" cy="298.20" r="2.3" fill="url(#gr)"/>
<circle cx="454.70" cy="301.70" r="2.3" fill="url(#gr)"/>
<circle cx="457.10" cy="304.10" r="2.3" fill="url(#gr)"/>
<circle cx="459.40" cy="300.60" r="2.3" fill="url(#gr)"/>
<circle cx="462.10" cy="298.60" r="2.3" fill="url(#gr)"/>
<circle cx="464.40" cy="295.90" r="2.3" fill="url(#gr)"/>
<circle cx="467.00" cy="284.60" r="2.3" fill="url(#gr)"/>
<circle cx="469.30" cy="293.00" r="2.3" fill="url(#gr)"/>
<circle cx="471.70" cy="268.20" r="2.3" fill="url(#gr)"/>
<circle cx="474.10" cy="252.70" r="2.3" fill="url(#gr)"/>
<circle cx="477.00" cy="240.70" r="2.3" fill="url(#gr)"/>
<circle cx="479.30" cy="258.20" r="2.3" fill="url(#gr)"/>
<circle cx="481.60" cy="288.90" r="2.3" fill="url(#gr)"/>
<circle cx="484.10" cy="295.50" r="2.3" fill="url(#gr)"/>
<circle cx="487.20" cy="301.30" r="2.3" fill="url(#gr)"/>
<circle cx="488.90" cy="297.70" r="2.3" fill="url(#gr)"/>
<circle cx="491.50" cy="305.00" r="2.3" fill="url(#gr)"/>
<circle cx="494.00" cy="300.60" r="2.3" fill="url(#gr)"/>
<circle cx="496.60" cy="302.50" r="2.3" fill="url(#gr)"/>
<circle cx="498.80" cy="297.70" r="2.3" fill="url(#gr)"/>
<circle cx="501.70" cy="299.10" r="2.3" fill="url(#gr)"/>
<circle cx="504.60" cy="297.70" r="2.3" fill="url(#gr)"/>
<text x="379.60" y="324.30" font-size="14.5" text-anchor="middle" font-weight="normal" font-style="normal" fill="#111" font-family="Liberation Sans" >-2.1</text>
<text x="442.80" y="324.30" font-size="14.5" text-anchor="middle" font-weight="normal" font-style="normal" fill="#111" font-family="Liberation Sans" >-1.4</text>
<text x="506.00" y="324.30" font-size="14.5" text-anchor="middle" font-weight="normal" font-style="normal" fill="#111" font-family="Liberation Sans" >-0.7</text>
<text x="376.60" y="304.62" font-size="14.5" text-anchor="end" font-weight="normal" font-style="normal" fill="#111" font-family="Liberation Sans" >0.0</text>
<text x="376.60" y="281.56" font-size="14.5" text-anchor="end" font-weight="normal" font-style="normal" fill="#111" font-family="Liberation Sans" >0.7</text>
<text x="376.60" y="258.51" font-size="14.5" text-anchor="end" font-weight="normal" font-style="normal" fill="#111" font-family="Liberation Sans" >1.4</text>
<text x="376.60" y="235.45" font-size="14.5" text-anchor="end" font-weight="normal" font-style="normal" fill="#111" font-family="Liberation Sans" >2.1</text>
<text x="376.60" y="212.40" font-size="14.5" text-anchor="end" font-weight="normal" font-style="normal" fill="#111" font-family="Liberation Sans" >2.8</text>
<text x="445.30" y="337.80" font-size="14.5" text-anchor="middle" fill="#111" font-family="Liberation Sans"><tspan font-style="italic">q</tspan><tspan font-style="italic" font-size="10.5" dy="3">x</tspan><tspan dy="-3" dx="2">(nm</tspan><tspan font-size="9.5" dy="-5.4">-1</tspan><tspan dy="5.4">)</tspan></text>
<text x="0" y="0" font-size="14.8" text-anchor="middle" fill="#111" font-family="Liberation Sans" transform="translate(354.20,257.95) rotate(-90)">Intensity (a. u.)</text>
<rect x="386.00" y="210.50" width="66.50" height="62.10" fill="#fff" stroke="#333" stroke-width="1.1"/>
<line x1="419.50" y1="211.00" x2="419.50" y2="272.10" stroke="#222" stroke-width="1" stroke-dasharray="1,1.2"/>
<line x1="386.50" y1="242.50" x2="452.00" y2="242.50" stroke="#222" stroke-width="1" stroke-dasharray="1,1.2"/>
<polygon points="408.10,228.00 435.80,233.70 429.60,256.80 404.00,250.40" fill="none" stroke="#3a9ad9" stroke-width="1.0" stroke-dasharray="1.2,1"/>
<polygon points="403.40,234.20 409.10,257.40 435.30,250.40 429.20,228.00" fill="none" stroke="#000" stroke-width="1.3" stroke-dasharray="1.3,1.3"/>
<line x1="419.10" y1="242.60" x2="415.25" y2="225.64" stroke="#111" stroke-width="1.05"/>
<polygon points="414.40,221.90 417.71,226.07 413.22,227.09" fill="#111"/>
<line x1="419.10" y1="242.60" x2="425.05" y2="233.15" stroke="#111" stroke-width="1.05"/>
<polygon points="427.10,229.90 426.49,235.19 422.60,232.74" fill="#111"/>
<line x1="419.10" y1="242.60" x2="408.91" y2="237.36" stroke="#111" stroke-width="1.05"/>
<polygon points="405.50,235.60 410.82,235.75 408.72,239.84" fill="#111"/>
<circle cx="424.80" cy="218.10" r="2.3" fill="#fff" stroke="#2f64b8" stroke-width="1"/>
<circle cx="435.80" cy="233.70" r="2.3" fill="#fff" stroke="#2f64b8" stroke-width="1"/>
<circle cx="444.20" cy="246.90" r="2.3" fill="#fff" stroke="#2f64b8" stroke-width="1"/>
<circle cx="429.60" cy="256.80" r="2.3" fill="#fff" stroke="#2f64b8" stroke-width="1"/>
<circle cx="412.90" cy="266.30" r="2.3" fill="#fff" stroke="#2f64b8" stroke-width="1"/>
<circle cx="404.00" cy="250.40" r="2.3" fill="#fff" stroke="#2f64b8" stroke-width="1"/>
<circle cx="393.50" cy="237.10" r="2.3" fill="#fff" stroke="#2f64b8" stroke-width="1"/>
<circle cx="408.10" cy="228.00" r="2.3" fill="#fff" stroke="#2f64b8" stroke-width="1"/>
<circle cx="413.10" cy="218.50" r="2.65" fill="#1f9de6"/>
<circle cx="429.20" cy="228.00" r="2.65" fill="#1f9de6"/>
<circle cx="445.30" cy="236.00" r="2.65" fill="#1f9de6"/>
<circle cx="435.30" cy="250.40" r="2.65" fill="#1f9de6"/>
<circle cx="424.50" cy="266.30" r="2.65" fill="#1f9de6"/>
<circle cx="409.10" cy="257.40" r="2.65" fill="#1f9de6"/>
<circle cx="393.00" cy="248.30" r="2.65" fill="#1f9de6"/>
<circle cx="403.40" cy="234.20" r="2.65" fill="#1f9de6"/>
<circle cx="408.10" cy="228.00" r="4.0" fill="none" stroke="#111" stroke-width="1.25"/>
<text x="398.00" y="218.50" font-size="10" fill="#222" font-family="Liberation Sans">Q<tspan font-size="7.2" dy="2.2">7</tspan></text>
<text x="388.50" y="232.10" font-size="10" fill="#222" font-family="Liberation Sans">Q<tspan font-size="7.2" dy="2.2">6</tspan></text>
<text x="430.30" y="227.00" font-size="10" fill="#222" font-family="Liberation Sans">Q<tspan font-size="7.2" dy="2.2">5</tspan></text>
<rect x="543.60" y="208.00" width="126.80" height="102.50" fill="none" stroke="#7f7f7f" stroke-width="1"/>
<path d="M543.60,310.50v-2.6M543.60,208.00v2.6M585.87,310.50v-2.6M585.87,208.00v2.6M628.13,310.50v-2.6M628.13,208.00v2.6M670.40,310.50v-2.6M670.40,208.00v2.6M564.73,310.50v-1.6M564.73,208.00v1.6M607.00,310.50v-1.6M607.00,208.00v1.6M649.27,310.50v-1.6M649.27,208.00v1.6M543.60,298.00h2.6M670.40,298.00h-2.6M543.60,268.00h2.6M670.40,268.00h-2.6M543.60,238.00h2.6M670.40,238.00h-2.6M543.60,208.00h2.6M670.40,208.00h-2.6M543.60,283.00h1.6M670.40,283.00h-1.6M543.60,253.00h1.6M670.40,253.00h-1.6M543.60,223.00h1.6M670.40,223.00h-1.6" stroke="#7f7f7f" stroke-width="0.9" fill="none"/>
<path d="M545.40,288.50V297.50M544.50,288.50h1.8M544.50,297.50h1.8M549.30,285.00V294.00M548.40,285.00h1.8M548.40,294.00h1.8M553.20,286.00V295.00M552.30,286.00h1.8M552.30,295.00h1.8M557.10,288.50V297.50M556.20,288.50h1.8M556.20,297.50h1.8M560.70,286.50V295.50M559.80,286.50h1.8M559.80,295.50h1.8M564.70,285.60V294.60M563.80,285.60h1.8M563.80,294.60h1.8M568.60,288.50V297.50M567.70,288.50h1.8M567.70,297.50h1.8M572.60,287.80V296.80M571.70,287.80h1.8M571.70,296.80h1.8M576.20,291.30V300.30M575.30,291.30h1.8M575.30,300.30h1.8M580.20,290.50V299.50M579.30,290.50h1.8M579.30,299.50h1.8M584.00,291.50V300.50M583.10,291.50h1.8M583.10,300.50h1.8M587.70,284.00V293.00M586.80,284.00h1.8M586.80,293.00h1.8M591.60,293.90V302.90M590.70,293.90h1.8M590.70,302.90h1.8M595.60,289.90V298.90M594.70,289.90h1.8M594.70,298.90h1.8M599.50,289.50V298.50M598.60,289.50h1.8M598.60,298.50h1.8M603.20,283.00V292.00M602.30,283.00h1.8M602.30,292.00h1.8M607.10,290.20V299.20M606.20,290.20h1.8M606.20,299.20h1.8M610.90,286.90V295.90M610.00,286.90h1.8M610.00,295.90h1.8M614.60,291.90V300.90M613.70,291.90h1.8M613.70,300.90h1.8M618.20,283.60V292.60M617.30,283.60h1.8M617.30,292.60h1.8M622.20,283.00V292.00M621.30,283.00h1.8M621.30,292.00h1.8M626.00,295.50V304.50M625.10,295.50h1.8M625.10,304.50h1.8M630.00,285.00V294.00M629.10,285.00h1.8M629.10,294.00h1.8M633.80,270.90V279.90M632.90,270.90h1.8M632.90,279.90h1.8M637.60,254.20V263.20M636.70,254.20h1.8M636.70,263.20h1.8M641.70,244.30V253.30M640.80,244.30h1.8M640.80,253.30h1.8M645.40,245.20V254.20M644.50,245.20h1.8M644.50,254.20h1.8M649.30,237.40V246.40M648.40,237.40h1.8M648.40,246.40h1.8M653.00,253.30V262.30M652.10,253.30h1.8M652.10,262.30h1.8M656.70,273.80V282.80M655.80,273.80h1.8M655.80,282.80h1.8M660.60,281.70V290.70M659.70,281.70h1.8M659.70,290.70h1.8M664.40,285.20V294.20M663.50,285.20h1.8M663.50,294.20h1.8M668.20,288.50V297.50M667.30,288.50h1.8M667.30,297.50h1.8" stroke="#b4b4b4" stroke-width="0.6" fill="none"/>
<path d="M545.40,294.50V301.50M544.50,294.50h1.8M544.50,301.50h1.8M549.30,295.20V302.20M548.40,295.20h1.8M548.40,302.20h1.8M553.20,293.20V300.20M552.30,293.20h1.8M552.30,300.20h1.8M557.20,295.20V302.20M556.30,295.20h1.8M556.30,302.20h1.8M560.70,298.40V305.40M559.80,298.40h1.8M559.80,305.40h1.8M564.70,294.10V301.10M563.80,294.10h1.8M563.80,301.10h1.8M568.60,294.50V301.50M567.70,294.50h1.8M567.70,301.50h1.8M572.60,295.20V302.20M571.70,295.20h1.8M571.70,302.20h1.8M576.20,297.10V304.10M575.30,297.10h1.8M575.30,304.10h1.8M580.20,295.20V302.20M579.30,295.20h1.8M579.30,302.20h1.8M584.00,291.50V298.50M583.10,291.50h1.8M583.10,298.50h1.8M587.70,293.20V300.20M586.80,293.20h1.8M586.80,300.20h1.8M591.60,293.20V300.20M590.70,293.20h1.8M590.70,300.20h1.8M595.60,293.20V300.20M594.70,293.20h1.8M594.70,300.20h1.8M599.50,292.80V299.80M598.60,292.80h1.8M598.60,299.80h1.8M603.20,296.20V303.20M602.30,296.20h1.8M602.30,303.20h1.8M607.10,295.80V302.80M606.20,295.80h1.8M606.20,302.80h1.8M610.90,294.90V301.90M610.00,294.90h1.8M610.00,301.90h1.8M614.60,295.20V302.20M613.70,295.20h1.8M613.70,302.20h1.8M618.20,298.40V305.40M617.30,298.40h1.8M617.30,305.40h1.8M622.20,295.80V302.80M621.30,295.80h1.8M621.30,302.80h1.8M626.00,293.00V300.00M625.10,293.00h1.8M625.10,300.00h1.8M629.90,293.00V300.00M629.00,293.00h1.8M629.00,300.00h1.8M633.70,296.50V303.50M632.80,296.50h1.8M632.80,303.50h1.8M637.80,289.30V296.30M636.90,289.30h1.8M636.90,296.30h1.8M641.60,284.60V291.60M640.70,284.60h1.8M640.70,291.60h1.8M645.40,276.10V283.10M644.50,276.10h1.8M644.50,283.10h1.8M648.90,283.10V290.10M648.00,283.10h1.8M648.00,290.10h1.8M652.80,295.30V302.30M651.90,295.30h1.8M651.90,302.30h1.8M656.70,293.20V300.20M655.80,293.20h1.8M655.80,300.20h1.8M660.60,293.20V300.20M659.70,293.20h1.8M659.70,300.20h1.8M664.40,293.20V300.20M663.50,293.20h1.8M663.50,300.20h1.8M668.20,290.10V297.10M667.30,290.10h1.8M667.30,297.10h1.8" stroke="#ffb0b0" stroke-width="0.6" fill="none"/>
<polyline points="544.20,293.20 544.70,293.20 545.20,293.20 545.70,293.20 546.20,293.20 546.70,293.20 547.20,293.20 547.70,293.20 548.20,293.20 548.70,293.20 549.20,293.20 549.70,293.20 550.20,293.20 550.70,293.20 551.20,293.20 551.70,293.20 552.20,293.20 552.70,293.20 553.20,293.20 553.70,293.20 554.20,293.20 554.70,293.20 555.20,293.20 555.70,293.20 556.20,293.20 556.70,293.20 557.20,293.20 557.70,293.20 558.20,293.20 558.70,293.20 559.20,293.20 559.70,293.20 560.20,293.20 560.70,293.20 561.20,293.20 561.70,293.20 562.20,293.20 562.70,293.20 563.20,293.20 563.70,293.20 564.20,293.20 564.70,293.20 565.20,293.20 565.70,293.20 566.20,293.20 566.70,293.20 567.20,293.20 567.70,293.20 568.20,293.20 568.70,293.20 569.20,293.20 569.70,293.20 570.20,293.20 570.70,293.20 571.20,293.20 571.70,293.20 572.20,293.20 572.70,293.20 573.20,293.20 573.70,293.20 574.20,293.20 574.70,293.20 575.20,293.20 575.70,293.20 576.20,293.20 576.70,293.20 577.20,293.20 577.70,293.20 578.20,293.20 578.70,293.20 579.20,293.20 579.70,293.20 580.20,293.20 580.70,293.20 581.20,293.20 581.70,293.20 582.20,293.20 582.70,293.20 583.20,293.20 583.70,293.20 584.20,293.20 584.70,293.20 585.20,293.20 585.70,293.20 586.20,293.20 586.70,293.20 587.20,293.20 587.70,293.20 588.20,293.20 588.70,293.20 589.20,293.20 589.70,293.20 590.20,293.20 590.70,293.20 591.20,293.20 591.70,293.20 592.20,293.20 592.70,293.20 593.20,293.20 593.70,293.20 594.20,293.20 594.70,293.20 595.20,293.20 595.70,293.20 596.20,293.20 596.70,293.20 597.20,293.20 597.70,293.20 598.20,293.20 598.70,293.20 599.20,293.20 599.70,293.20 600.20,293.20 600.70,293.20 601.20,293.20 601.70,293.20 602.20,293.20 602.70,293.20 603.20,293.20 603.70,293.20 604.20,293.20 604.70,293.20 605.20,293.20 605.70,293.20 606.20,293.20 606.70,293.20 607.20,293.20 607.70,293.20 608.20,293.20 608.70,293.20 609.20,293.20 609.70,293.19 610.20,293.19 610.70,293.19 611.20,293.19 611.70,293.18 612.20,293.18 612.70,293.17 613.20,293.17 613.70,293.16 614.20,293.15 614.70,293.14 615.20,293.12 615.70,293.10 616.20,293.08 616.70,293.06 617.20,293.02 617.70,292.99 618.20,292.94 618.70,292.89 619.20,292.82 619.70,292.75 620.20,292.66 620.70,292.55 621.20,292.43 621.70,292.29 622.20,292.13 622.70,291.94 623.20,291.72 623.70,291.47 624.20,291.19 624.70,290.87 625.20,290.51 625.70,290.10 626.20,289.65 626.70,289.14 627.20,288.57 627.70,287.95 628.20,287.26 628.70,286.50 629.20,285.67 629.70,284.77 630.20,283.79 630.70,282.74 631.20,281.60 631.70,280.39 632.20,279.10 632.70,277.74 633.20,276.30 633.70,274.79 634.20,273.22 634.70,271.59 635.20,269.90 635.70,268.17 636.20,266.41 636.70,264.62 637.20,262.81 637.70,261.00 638.20,259.21 638.70,257.43 639.20,255.70 639.70,254.01 640.20,252.39 640.70,250.85 641.20,249.41 641.70,248.07 642.20,246.85 642.70,245.76 643.20,244.82 643.70,244.02 644.20,243.39 644.70,242.92 645.20,242.63 645.70,242.50 646.20,242.56 646.70,242.78 647.20,243.18 647.70,243.75 648.20,244.48 648.70,245.37 649.20,246.40 649.70,247.57 650.20,248.86 650.70,250.26 651.20,251.76 651.70,253.35 652.20,255.01 652.70,256.73 653.20,258.49 653.70,260.28 654.20,262.09 654.70,263.89 655.20,265.69 655.70,267.47 656.20,269.22 656.70,270.92 657.20,272.57 657.70,274.17 658.20,275.71 658.70,277.17 659.20,278.57 659.70,279.89 660.20,281.13 660.70,282.29 661.20,283.38 661.70,284.39 662.20,285.32 662.70,286.18 663.20,286.96 663.70,287.68 664.20,288.33 664.70,288.92 665.20,289.45 665.70,289.93 666.20,290.35 666.70,290.73 667.20,291.07 667.70,291.37 668.20,291.63 668.70,291.85 669.20,292.05 669.70,292.23" fill="none" stroke="#555" stroke-width="0.7"/>
<polyline points="544.20,297.80 544.70,297.80 545.20,297.80 545.70,297.80 546.20,297.80 546.70,297.80 547.20,297.80 547.70,297.80 548.20,297.80 548.70,297.80 549.20,297.80 549.70,297.80 550.20,297.80 550.70,297.80 551.20,297.80 551.70,297.80 552.20,297.80 552.70,297.80 553.20,297.80 553.70,297.80 554.20,297.80 554.70,297.80 555.20,297.80 555.70,297.80 556.20,297.80 556.70,297.80 557.20,297.80 557.70,297.80 558.20,297.80 558.70,297.80 559.20,297.80 559.70,297.80 560.20,297.80 560.70,297.80 561.20,297.80 561.70,297.80 562.20,297.80 562.70,297.80 563.20,297.80 563.70,297.80 564.20,297.80 564.70,297.80 565.20,297.80 565.70,297.80 566.20,297.80 566.70,297.80 567.20,297.80 567.70,297.80 568.20,297.80 568.70,297.80 569.20,297.80 569.70,297.80 570.20,297.80 570.70,297.80 571.20,297.80 571.70,297.80 572.20,297.80 572.70,297.80 573.20,297.80 573.70,297.80 574.20,297.80 574.70,297.80 575.20,297.80 575.70,297.80 576.20,297.80 576.70,297.80 577.20,297.80 577.70,297.80 578.20,297.80 578.70,297.80 579.20,297.80 579.70,297.80 580.20,297.80 580.70,297.80 581.20,297.80 581.70,297.80 582.20,297.80 582.70,297.80 583.20,297.80 583.70,297.80 584.20,297.80 584.70,297.80 585.20,297.80 585.70,297.80 586.20,297.80 586.70,297.80 587.20,297.80 587.70,297.80 588.20,297.80 588.70,297.80 589.20,297.80 589.70,297.80 590.20,297.80 590.70,297.80 591.20,297.80 591.70,297.80 592.20,297.80 592.70,297.80 593.20,297.80 593.70,297.80 594.20,297.80 594.70,297.80 595.20,297.80 595.70,297.80 596.20,297.80 596.70,297.80 597.20,297.80 597.70,297.80 598.20,297.80 598.70,297.80 599.20,297.80 599.70,297.80 600.20,297.80 600.70,297.80 601.20,297.80 601.70,297.80 602.20,297.80 602.70,297.80 603.20,297.80 603.70,297.80 604.20,297.80 604.70,297.80 605.20,297.80 605.70,297.80 606.20,297.80 606.70,297.80 607.20,297.80 607.70,297.80 608.20,297.80 608.70,297.80 609.20,297.80 609.70,297.80 610.20,297.80 610.70,297.80 611.20,297.80 611.70,297.80 612.20,297.80 612.70,297.80 613.20,297.80 613.70,297.80 614.20,297.80 614.70,297.80 615.20,297.80 615.70,297.80 616.20,297.80 616.70,297.80 617.20,297.80 617.70,297.80 618.20,297.80 618.70,297.80 619.20,297.80 619.70,297.80 620.20,297.80 620.70,297.80 621.20,297.80 621.70,297.80 622.20,297.80 622.70,297.80 623.20,297.80 623.70,297.80 624.20,297.80 624.70,297.80 625.20,297.80 625.70,297.80 626.20,297.80 626.70,297.80 627.20,297.80 627.70,297.80 628.20,297.80 628.70,297.80 629.20,297.79 629.70,297.79 630.20,297.79 630.70,297.78 631.20,297.77 631.70,297.75 632.20,297.72 632.70,297.68 633.20,297.63 633.70,297.55 634.20,297.44 634.70,297.29 635.20,297.09 635.70,296.83 636.20,296.50 636.70,296.08 637.20,295.56 637.70,294.93 638.20,294.18 638.70,293.30 639.20,292.30 639.70,291.17 640.20,289.94 640.70,288.62 641.20,287.26 641.70,285.87 642.20,284.51 642.70,283.23 643.20,282.07 643.70,281.08 644.20,280.31 644.70,279.78 645.20,279.52 645.70,279.55 646.20,279.86 646.70,280.44 647.20,281.26 647.70,282.29 648.20,283.48 648.70,284.78 649.20,286.15 649.70,287.53 650.20,288.89 650.70,290.19 651.20,291.40 651.70,292.51 652.20,293.49 652.70,294.34 653.20,295.07 653.70,295.67 654.20,296.17 654.70,296.57 655.20,296.89 655.70,297.14 656.20,297.32 656.70,297.46 657.20,297.56 657.70,297.64 658.20,297.69 658.70,297.73 659.20,297.75 659.70,297.77 660.20,297.78 660.70,297.79 661.20,297.79 661.70,297.80 662.20,297.80 662.70,297.80 663.20,297.80 663.70,297.80 664.20,297.80 664.70,297.80 665.20,297.80 665.70,297.80 666.20,297.80 666.70,297.80 667.20,297.80 667.70,297.80 668.20,297.80 668.70,297.80 669.20,297.80 669.70,297.80" fill="none" stroke="#ff1010" stroke-width="0.7"/>
<circle cx="545.40" cy="293.00" r="2.3" fill="url(#gk)"/>
<circle cx="549.30" cy="289.50" r="2.3" fill="url(#gk)"/>
<circle cx="553.20" cy="290.50" r="2.3" fill="url(#gk)"/>
<circle cx="557.10" cy="293.00" r="2.3" fill="url(#gk)"/>
<circle cx="560.70" cy="291.00" r="2.3" fill="url(#gk)"/>
<circle cx="564.70" cy="290.10" r="2.3" fill="url(#gk)"/>
<circle cx="568.60" cy="293.00" r="2.3" fill="url(#gk)"/>
<circle cx="572.60" cy="292.30" r="2.3" fill="url(#gk)"/>
<circle cx="576.20" cy="295.80" r="2.3" fill="url(#gk)"/>
<circle cx="580.20" cy="295.00" r="2.3" fill="url(#gk)"/>
<circle cx="584.00" cy="296.00" r="2.3" fill="url(#gk)"/>
<circle cx="587.70" cy="288.50" r="2.3" fill="url(#gk)"/>
<circle cx="591.60" cy="298.40" r="2.3" fill="url(#gk)"/>
<circle cx="595.60" cy="294.40" r="2.3" fill="url(#gk)"/>
<circle cx="599.50" cy="294.00" r="2.3" fill="url(#gk)"/>
<circle cx="603.20" cy="287.50" r="2.3" fill="url(#gk)"/>
<circle cx="607.10" cy="294.70" r="2.3" fill="url(#gk)"/>
<circle cx="610.90" cy="291.40" r="2.3" fill="url(#gk)"/>
<circle cx="614.60" cy="296.40" r="2.3" fill="url(#gk)"/>
<circle cx="618.20" cy="288.10" r="2.3" fill="url(#gk)"/>
<circle cx="622.20" cy="287.50" r="2.3" fill="url(#gk)"/>
<circle cx="626.00" cy="300.00" r="2.3" fill="url(#gk)"/>
<circle cx="630.00" cy="289.50" r="2.3" fill="url(#gk)"/>
<circle cx="633.80" cy="275.40" r="2.3" fill="url(#gk)"/>
<circle cx="637.60" cy="258.70" r="2.3" fill="url(#gk)"/>
<circle cx="641.70" cy="248.80" r="2.3" fill="url(#gk)"/>
<circle cx="645.40" cy="249.70" r="2.3" fill="url(#gk)"/>
<circle cx="649.30" cy="241.90" r="2.3" fill="url(#gk)"/>
<circle cx="653.00" cy="257.80" r="2.3" fill="url(#gk)"/>
<circle cx="656.70" cy="278.30" r="2.3" fill="url(#gk)"/>
<circle cx="660.60" cy="286.20" r="2.3" fill="url(#gk)"/>
<circle cx="664.40" cy="289.70" r="2.3" fill="url(#gk)"/>
<circle cx="668.20" cy="293.00" r="2.3" fill="url(#gk)"/>
<circle cx="545.40" cy="298.00" r="2.3" fill="url(#gr)"/>
<circle cx="549.30" cy="298.70" r="2.3" fill="url(#gr)"/>
<circle cx="553.20" cy="296.70" r="2.3" fill="url(#gr)"/>
<circle cx="557.20" cy="298.70" r="2.3" fill="url(#gr)"/>
<circle cx="560.70" cy="301.90" r="2.3" fill="url(#gr)"/>
<circle cx="564.70" cy="297.60" r="2.3" fill="url(#gr)"/>
<circle cx="568.60" cy="298.00" r="2.3" fill="url(#gr)"/>
<circle cx="572.60" cy="298.70" r="2.3" fill="url(#gr)"/>
<circle cx="576.20" cy="300.60" r="2.3" fill="url(#gr)"/>
<circle cx="580.20" cy="298.70" r="2.3" fill="url(#gr)"/>
<circle cx="584.00" cy="295.00" r="2.3" fill="url(#gr)"/>
<circle cx="587.70" cy="296.70" r="2.3" fill="url(#gr)"/>
<circle cx="591.60" cy="296.70" r="2.3" fill="url(#gr)"/>
<circle cx="595.60" cy="296.70" r="2.3" fill="url(#gr)"/>
<circle cx="599.50" cy="296.30" r="2.3" fill="url(#gr)"/>
<circle cx="603.20" cy="299.70" r="2.3" fill="url(#gr)"/>
<circle cx="607.10" cy="299.30" r="2.3" fill="url(#gr)"/>
<circle cx="610.90" cy="298.40" r="2.3" fill="url(#gr)"/>
<circle cx="614.60" cy="298.70" r="2.3" fill="url(#gr)"/>
<circle cx="618.20" cy="301.90" r="2.3" fill="url(#gr)"/>
<circle cx="622.20" cy="299.30" r="2.3" fill="url(#gr)"/>
<circle cx="626.00" cy="296.50" r="2.3" fill="url(#gr)"/>
<circle cx="629.90" cy="296.50" r="2.3" fill="url(#gr)"/>
<circle cx="633.70" cy="300.00" r="2.3" fill="url(#gr)"/>
<circle cx="637.80" cy="292.80" r="2.3" fill="url(#gr)"/>
<circle cx="641.60" cy="288.10" r="2.3" fill="url(#gr)"/>
<circle cx="645.40" cy="279.60" r="2.3" fill="url(#gr)"/>
<circle cx="648.90" cy="286.60" r="2.3" fill="url(#gr)"/>
<circle cx="652.80" cy="298.80" r="2.3" fill="url(#gr)"/>
<circle cx="656.70" cy="296.70" r="2.3" fill="url(#gr)"/>
<circle cx="660.60" cy="296.70" r="2.3" fill="url(#gr)"/>
<circle cx="664.40" cy="296.70" r="2.3" fill="url(#gr)"/>
<circle cx="668.20" cy="293.60" r="2.3" fill="url(#gr)"/>
<text x="543.60" y="324.40" font-size="14.5" text-anchor="middle" font-weight="normal" font-style="normal" fill="#111" font-family="Liberation Sans" >-1.2</text>
<text x="585.87" y="324.40" font-size="14.5" text-anchor="middle" font-weight="normal" font-style="normal" fill="#111" font-family="Liberation Sans" >-1.5</text>
<text x="628.13" y="324.40" font-size="14.5" text-anchor="middle" font-weight="normal" font-style="normal" fill="#111" font-family="Liberation Sans" >-1.8</text>
<text x="670.40" y="324.40" font-size="14.5" text-anchor="middle" font-weight="normal" font-style="normal" fill="#111" font-family="Liberation Sans" >-2.1</text>
<text x="540.60" y="302.10" font-size="14.5" text-anchor="end" font-weight="normal" font-style="normal" fill="#111" font-family="Liberation Sans" >0.0</text>
<text x="540.60" y="272.10" font-size="14.5" text-anchor="end" font-weight="normal" font-style="normal" fill="#111" font-family="Liberation Sans" >1.2</text>
<text x="540.60" y="242.10" font-size="14.5" text-anchor="end" font-weight="normal" font-style="normal" fill="#111" font-family="Liberation Sans" >2.4</text>
<text x="540.60" y="212.10" font-size="14.5" text-anchor="end" font-weight="normal" font-style="normal" fill="#111" font-family="Liberation Sans" >3.6</text>
<text x="609.50" y="336.90" font-size="14.5" text-anchor="middle" fill="#111" font-family="Liberation Sans"><tspan font-style="italic">q</tspan><tspan font-style="italic" font-size="10.5" dy="3">x</tspan><tspan dy="-3" dx="2">(nm</tspan><tspan font-size="9.5" dy="-5.4">-1</tspan><tspan dy="5.4">)</tspan></text>
<rect x="550.70" y="210.70" width="64.70" height="61.90" fill="#fff" stroke="#333" stroke-width="1.1"/>
<line x1="583.50" y1="211.20" x2="583.50" y2="272.10" stroke="#222" stroke-width="1" stroke-dasharray="1,1.2"/>
<line x1="551.20" y1="242.50" x2="614.90" y2="242.50" stroke="#222" stroke-width="1" stroke-dasharray="1,1.2"/>
<polygon points="572.60,228.40 599.50,234.30 593.90,256.90 568.60,250.60" fill="none" stroke="#3a9ad9" stroke-width="1.0" stroke-dasharray="1.2,1"/>
<polygon points="568.00,234.30 573.80,257.40 599.50,250.40 593.60,228.40" fill="none" stroke="#000" stroke-width="1.3" stroke-dasharray="1.3,1.3"/>
<line x1="583.40" y1="242.90" x2="580.08" y2="226.28" stroke="#111" stroke-width="1.05"/>
<polygon points="579.32,222.52 582.52,226.77 578.01,227.68" fill="#111"/>
<line x1="583.40" y1="242.90" x2="589.43" y2="234.32" stroke="#111" stroke-width="1.05"/>
<polygon points="591.64,231.18 590.76,236.43 587.00,233.78" fill="#111"/>
<line x1="583.40" y1="242.90" x2="574.32" y2="237.83" stroke="#111" stroke-width="1.05"/>
<polygon points="570.97,235.96 576.28,236.29 574.04,240.31" fill="#111"/>
<circle cx="589.70" cy="218.40" r="2.3" fill="#fff" stroke="#2f64b8" stroke-width="1"/>
<circle cx="599.50" cy="234.30" r="2.3" fill="#fff" stroke="#2f64b8" stroke-width="1"/>
<circle cx="608.40" cy="246.90" r="2.3" fill="#fff" stroke="#2f64b8" stroke-width="1"/>
<circle cx="593.90" cy="256.90" r="2.3" fill="#fff" stroke="#2f64b8" stroke-width="1"/>
<circle cx="577.30" cy="266.30" r="2.3" fill="#fff" stroke="#2f64b8" stroke-width="1"/>
<circle cx="568.60" cy="250.60" r="2.3" fill="#fff" stroke="#2f64b8" stroke-width="1"/>
<circle cx="558.10" cy="237.10" r="2.3" fill="#fff" stroke="#2f64b8" stroke-width="1"/>
<circle cx="572.60" cy="228.40" r="2.3" fill="#fff" stroke="#2f64b8" stroke-width="1"/>
<circle cx="578.50" cy="218.40" r="2.65" fill="#1f9de6"/>
<circle cx="593.60" cy="228.40" r="2.65" fill="#1f9de6"/>
<circle cx="609.10" cy="235.90" r="2.65" fill="#1f9de6"/>
<circle cx="599.50" cy="250.40" r="2.65" fill="#1f9de6"/>
<circle cx="588.50" cy="266.30" r="2.65" fill="#1f9de6"/>
<circle cx="573.80" cy="257.40" r="2.65" fill="#1f9de6"/>
<circle cx="557.70" cy="248.00" r="2.65" fill="#1f9de6"/>
<circle cx="568.00" cy="234.30" r="2.65" fill="#1f9de6"/>
<circle cx="578.50" cy="218.40" r="4.0" fill="none" stroke="#111" stroke-width="1.25"/>
<text x="559.00" y="220.70" font-size="10" fill="#222" font-family="Liberation Sans">Q<tspan font-size="7.2" dy="2.2">7</tspan></text>
<text x="553.30" y="232.40" font-size="10" fill="#222" font-family="Liberation Sans">Q<tspan font-size="7.2" dy="2.2">6</tspan></text>
<text x="595.30" y="227.70" font-size="10" fill="#222" font-family="Liberation Sans">Q<tspan font-size="7.2" dy="2.2">5</tspan></text>
</svg></body></html>
